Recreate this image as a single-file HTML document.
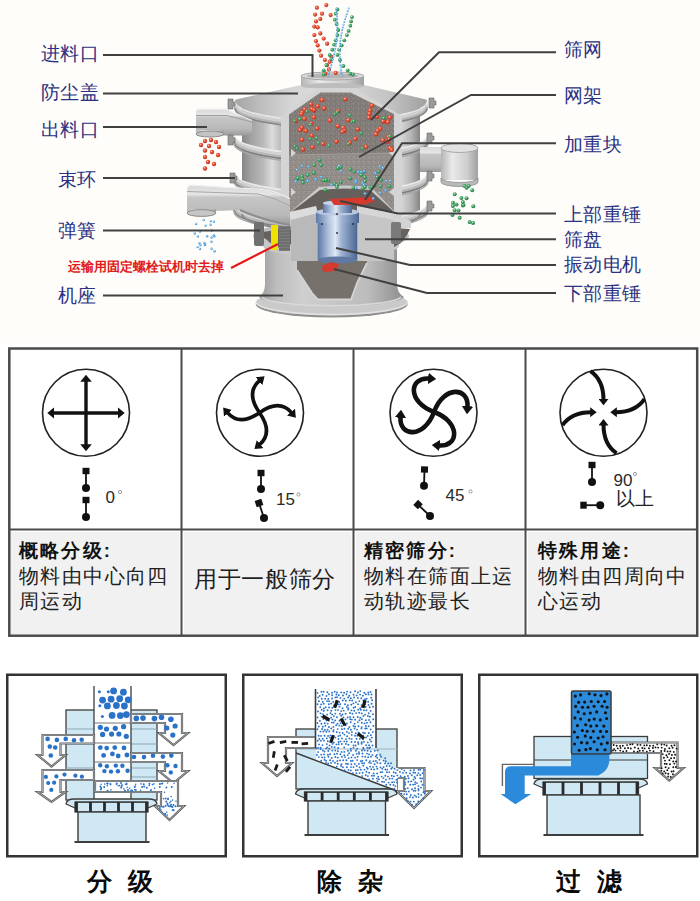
<!DOCTYPE html>
<html><head><meta charset="utf-8"><title>vibrating sieve</title>
<style>
html,body{margin:0;padding:0;background:#fff}
body{width:700px;height:901px;overflow:hidden}
svg{display:block}
text{font-family:"Liberation Sans",sans-serif}
.lb{font-family:"Liberation Serif",serif;font-size:19px;fill:#2b3182;letter-spacing:0.3px;font-weight:500}
.red{font-size:13.3px;font-weight:bold;fill:#e01c1c}
.num{font-size:17px;fill:#2a2a2a}
.tc{font-size:20px;fill:#222;letter-spacing:1.4px;font-weight:500}
.tc2{font-size:22.5px;fill:#1e1e1e;letter-spacing:0.7px;font-weight:500}
.tb{font-size:18.5px;font-weight:bold;fill:#111;letter-spacing:2.2px}
.cap{font-size:25px;font-weight:900;fill:#0a0a0a}
</style></head><body>
<svg width="700" height="901" viewBox="0 0 700 901">

<defs>
<linearGradient id="metal" x1="0" x2="1" y1="0" y2="0">
 <stop offset="0" stop-color="#8f8f8f"/><stop offset="0.18" stop-color="#d9d9d9"/>
 <stop offset="0.35" stop-color="#e8e8e8"/><stop offset="0.6" stop-color="#c2c2c2"/>
 <stop offset="0.85" stop-color="#a9a9a9"/><stop offset="1" stop-color="#7e7e7e"/></linearGradient>
<linearGradient id="metalv" x1="0" x2="0" y1="0" y2="1">
 <stop offset="0" stop-color="#e9e9e9"/><stop offset="0.5" stop-color="#c9c9c9"/><stop offset="1" stop-color="#9a9a9a"/></linearGradient>
<linearGradient id="lid" x1="0" x2="0" y1="0" y2="1">
 <stop offset="0" stop-color="#d5d5d5"/><stop offset="1" stop-color="#bdbdbd"/></linearGradient>
<linearGradient id="motor" x1="0" x2="1" y1="0" y2="0">
 <stop offset="0" stop-color="#3f5f95"/><stop offset="0.35" stop-color="#b9cbe6"/>
 <stop offset="0.55" stop-color="#7f9cc8"/><stop offset="1" stop-color="#344d7a"/></linearGradient>
<marker id="ah1" viewBox="0 0 7 11.5" refX="0.8" refY="5.75" markerWidth="7" markerHeight="11.5" orient="auto" markerUnits="userSpaceOnUse"><path d="M0,0 L7,5.75 L0,11.5 z" fill="#111"/></marker>
<marker id="ah2" viewBox="0 0 7.5 10.5" refX="0.8" refY="5.25" markerWidth="7.5" markerHeight="10.5" orient="auto" markerUnits="userSpaceOnUse"><path d="M0,0 L7.5,5.25 L0,10.5 z" fill="#111"/></marker>
<marker id="ah3" viewBox="0 0 8 11.5" refX="0.8" refY="5.75" markerWidth="8" markerHeight="11.5" orient="auto" markerUnits="userSpaceOnUse"><path d="M0,0 L8,5.75 L0,11.5 z" fill="#111"/></marker>
<marker id="ah4" viewBox="0 0 6.5 10" refX="0.8" refY="5.0" markerWidth="6.5" markerHeight="10" orient="auto" markerUnits="userSpaceOnUse"><path d="M0,0 L6.5,5.0 L0,10 z" fill="#111"/></marker>
</defs>
<rect x="0" y="0" width="700" height="343" fill="#fefdfa"/>
<defs>
<linearGradient id="bodyg" x1="0" x2="1" y1="0" y2="0">
 <stop offset="0" stop-color="#868686"/><stop offset="0.05" stop-color="#a2a2a2"/><stop offset="0.12" stop-color="#bababa"/><stop offset="0.17" stop-color="#dcdcdc"/>
 <stop offset="0.22" stop-color="#b9b9b9"/><stop offset="0.27" stop-color="#a6a6a6"/><stop offset="0.5" stop-color="#b0b0b0"/><stop offset="0.84" stop-color="#b6b6b6"/><stop offset="0.9" stop-color="#d2d2d2"/><stop offset="0.95" stop-color="#b5b5b5"/><stop offset="1" stop-color="#858585"/></linearGradient>
<linearGradient id="baseg" x1="0" x2="1" y1="0" y2="0">
 <stop offset="0" stop-color="#9a9a9a"/><stop offset="0.12" stop-color="#bdbdbd"/><stop offset="0.3" stop-color="#cfcfcf"/>
 <stop offset="0.75" stop-color="#bcbcbc"/><stop offset="1" stop-color="#8e8e8e"/></linearGradient>
<linearGradient id="spoutg" x1="0" x2="0" y1="0" y2="1">
 <stop offset="0" stop-color="#d8d8d8"/><stop offset="0.22" stop-color="#e6e6e6"/><stop offset="0.3" stop-color="#c6c6c6"/><stop offset="0.75" stop-color="#b8b8b8"/><stop offset="1" stop-color="#9a9a9a"/></linearGradient>
<linearGradient id="nozg" x1="0" x2="1" y1="0" y2="0">
 <stop offset="0" stop-color="#b5b5b5"/><stop offset="0.3" stop-color="#e9e9e9"/><stop offset="0.7" stop-color="#cfcfcf"/><stop offset="1" stop-color="#a0a0a0"/></linearGradient>
<linearGradient id="lidg" x1="0" x2="1" y1="0" y2="0">
 <stop offset="0" stop-color="#a5a5a5"/><stop offset="0.15" stop-color="#c0c0c0"/><stop offset="0.3" stop-color="#d6d6d6"/><stop offset="0.5" stop-color="#dcdcdc"/><stop offset="0.8" stop-color="#c4c4c4"/><stop offset="1" stop-color="#a0a0a0"/></linearGradient>
<linearGradient id="motg" x1="0" x2="1" y1="0" y2="0">
 <stop offset="0" stop-color="#5d79a6"/><stop offset="0.25" stop-color="#a9bcd9"/><stop offset="0.45" stop-color="#dfe8f3"/>
 <stop offset="0.6" stop-color="#9fb3d3"/><stop offset="1" stop-color="#4d6894"/></linearGradient>
<pattern id="tex" width="5" height="5" patternUnits="userSpaceOnUse"><rect width="5" height="5" fill="#827d79"/><rect x="1" y="2" width="1" height="1" fill="#77726e"/><rect x="3" y="3" width="1" height="1" fill="#8e8985"/><rect x="0" y="0" width="1" height="1" fill="#77726e"/><rect x="3" y="4" width="1" height="1" fill="#7c7773"/><rect x="0" y="1" width="1" height="1" fill="#7c7773"/><rect x="2" y="1" width="1" height="1" fill="#77726e"/><rect x="2" y="1" width="1" height="1" fill="#77726e"/><rect x="2" y="2" width="1" height="1" fill="#8e8985"/><rect x="1" y="2" width="1" height="1" fill="#7c7773"/><rect x="2" y="0" width="1" height="1" fill="#7c7773"/><rect x="3" y="4" width="1" height="1" fill="#8e8985"/><rect x="1" y="1" width="1" height="1" fill="#95908c"/></pattern>
<pattern id="tex2" width="5" height="5" patternUnits="userSpaceOnUse"><rect width="5" height="5" fill="#928d89"/><rect x="2" y="0" width="1" height="1" fill="#8d8884"/><rect x="0" y="2" width="1" height="1" fill="#8d8884"/><rect x="4" y="1" width="1" height="1" fill="#a39e9a"/><rect x="3" y="4" width="1" height="1" fill="#8d8884"/><rect x="3" y="3" width="1" height="1" fill="#9d9894"/><rect x="1" y="2" width="1" height="1" fill="#8d8884"/><rect x="0" y="0" width="1" height="1" fill="#878280"/><rect x="3" y="2" width="1" height="1" fill="#a39e9a"/><rect x="2" y="1" width="1" height="1" fill="#9d9894"/><rect x="0" y="3" width="1" height="1" fill="#9d9894"/><rect x="3" y="2" width="1" height="1" fill="#9d9894"/><rect x="2" y="3" width="1" height="1" fill="#8d8884"/></pattern>
<radialGradient id="pr" cx="0.38" cy="0.35" r="0.65"><stop offset="0" stop-color="#ffd9cc"/><stop offset="0.35" stop-color="#ee5a3e"/><stop offset="1" stop-color="#b8301c"/></radialGradient>
<radialGradient id="pg" cx="0.38" cy="0.35" r="0.65"><stop offset="0" stop-color="#d9f5e0"/><stop offset="0.35" stop-color="#4bae6e"/><stop offset="1" stop-color="#2a7a48"/></radialGradient>
<radialGradient id="pb" cx="0.38" cy="0.35" r="0.65"><stop offset="0" stop-color="#e6f4ff"/><stop offset="0.4" stop-color="#6ab6ec"/><stop offset="1" stop-color="#3b8fcf"/></radialGradient>
</defs>
<ellipse cx="331.7" cy="304" rx="76" ry="13.5" fill="#8f8f8f"/>
<ellipse cx="331.7" cy="302.5" rx="76" ry="13" fill="#cacaca"/>
<path d="M256,302.5 A76,13 0 0 0 407.5,302.5" fill="none" stroke="#e2e2e2" stroke-width="1.5"/>
<path d="M265,249 L265,284 Q265,293 259,297 A73,11 0 0 0 404,297 Q397,293 397,284 L397,249 Z" fill="url(#baseg)"/>
<path d="M262,297 A70,10 0 0 0 401,297" fill="none" stroke="#d9d9d9" stroke-width="1.5"/>
<polygon points="297,256 297,270 312,293 318,299.5 351,299.5 357,283 367,263 367,256" fill="#77716c"/>
<polyline points="297,270 312,293 318,299.5 351,299.5 357,283 367,263" fill="none" stroke="#d4d4d4" stroke-width="1.8"/>
<ellipse cx="331" cy="236" rx="78" ry="15" fill="#bfbfbf"/>
<ellipse cx="331" cy="236" rx="68" ry="11" fill="#66615d"/>
<path d="M263,236 A68,11 0 0 0 399,236 L399,246 A68,11 0 0 1 263,246 Z" fill="#c8c8c8"/>
<path d="M242,104 L242,212 A89,17 0 0 0 420,212 L420,104 Z" fill="url(#bodyg)"/>
<path d="M234,135 A97,19.5 0 0 0 428,135" fill="none" stroke="#e9e9e9" stroke-width="2"/>
<path d="M234,137.5 A97,19.5 0 0 0 428,137.5" fill="none" stroke="#d2d2d2" stroke-width="3"/>
<path d="M234,140 A97,19.5 0 0 0 428,140" fill="none" stroke="#b8b8b8" stroke-width="2.5"/>
<path d="M234,141.8 A97,19.5 0 0 0 428,141.8" fill="none" stroke="#7f7f7f" stroke-width="1.6"/>
<path d="M234,143.5 A97,19.5 0 0 0 428,143.5" fill="none" stroke="#a8a8a8" stroke-width="1.5"/>
<path d="M234,173 A97,19.5 0 0 0 428,173" fill="none" stroke="#e9e9e9" stroke-width="2"/>
<path d="M234,175.5 A97,19.5 0 0 0 428,175.5" fill="none" stroke="#d2d2d2" stroke-width="3"/>
<path d="M234,178 A97,19.5 0 0 0 428,178" fill="none" stroke="#b8b8b8" stroke-width="2.5"/>
<path d="M234,179.8 A97,19.5 0 0 0 428,179.8" fill="none" stroke="#7f7f7f" stroke-width="1.6"/>
<path d="M234,181.5 A97,19.5 0 0 0 428,181.5" fill="none" stroke="#a8a8a8" stroke-width="1.5"/>
<path d="M234,203 A97,19.5 0 0 0 428,203" fill="none" stroke="#e9e9e9" stroke-width="2"/>
<path d="M234,205.5 A97,19.5 0 0 0 428,205.5" fill="none" stroke="#d2d2d2" stroke-width="3"/>
<path d="M234,208 A97,19.5 0 0 0 428,208" fill="none" stroke="#b8b8b8" stroke-width="2.5"/>
<path d="M234,209.8 A97,19.5 0 0 0 428,209.8" fill="none" stroke="#7f7f7f" stroke-width="1.6"/>
<path d="M234,211.5 A97,19.5 0 0 0 428,211.5" fill="none" stroke="#a8a8a8" stroke-width="1.5"/>
<path d="M242,214 A89,17 0 0 0 420,214" fill="none" stroke="#8a8a8a" stroke-width="2"/>
<path d="M301,85 L238,99 Q234,100 235,101 A96,19 0 0 0 427,101 Q428,100 424,99 L364,85 Z" fill="url(#lidg)"/>
<path d="M235,102 A96,19 0 0 0 427,102" fill="none" stroke="#e4e4e4" stroke-width="2"/>
<path d="M235,104.5 A96,19 0 0 0 427,104.5" fill="none" stroke="#cfcfcf" stroke-width="3"/>
<path d="M235,107 A96,19 0 0 0 427,107" fill="none" stroke="#b3b3b3" stroke-width="2.5"/>
<path d="M235,108.6 A96,19 0 0 0 427,108.6" fill="none" stroke="#858585" stroke-width="1.5"/>
<rect x="301" y="76" width="63" height="10" fill="url(#nozg)"/>
<ellipse cx="332.5" cy="86" rx="31.5" ry="3" fill="#bdbdbd"/>
<ellipse cx="332.5" cy="76" rx="31.5" ry="4" fill="#dcdcdc" stroke="#a5a5a5" stroke-width="1"/>
<ellipse cx="332.5" cy="76" rx="26" ry="2.6" fill="#b5b5b5"/>
<polygon points="281,116 318,88 354,88 402,116 402,218 281,218" fill="#d4d4d4"/>
<polygon points="289,114.5 320.5,92.5 350.5,92.5 394,114 394,200 289,200" fill="url(#tex)"/>
<polygon points="289,155 394,153 394,212 289,212" fill="url(#tex2)"/>
<path d="M291,155 L394,153" stroke="#a29d99" stroke-width="1"/>
<polygon points="291,149 296,153 291,157" fill="#d4d4d4"/>
<polygon points="394,149 389,153 394,157" fill="#d4d4d4"/>
<polygon points="291,188 296,192 291,196" fill="#d4d4d4"/>
<polygon points="394,188 389,192 394,196" fill="#d4d4d4"/>
<path d="M288,214 L319,187 Q345,184 371,187 L395,212 L395,226 L288,226 Z" fill="#c9c9c9"/>
<path d="M291,212 L320,190 Q345,187 370,190 L393,211 Z" fill="#66605c"/>
<polygon points="289,212 316,206 318,213 291,220" fill="#dcdcdc"/>
<polygon points="357,206 394,213 394,220 357,213" fill="#d6d6d6"/>
<path d="M289,228 L263,232 Q266,246 289,250 Z" fill="#67625e"/>
<polygon points="291,220 318,213 318,261 291,261" fill="#b9b9b9"/>
<line x1="318" y1="212" x2="318" y2="261" stroke="#8f8f8f" stroke-width="1"/>
<polygon points="357,213 394,220 394,261 357,261" fill="#c6c6c6"/>
<path d="M394,228 L410,229 Q404,243 394,247 Z" fill="#67625e"/>
<polygon points="394,220 396,214 411,221 411,228 394,228" fill="#d3d3d3"/>
<line x1="357" y1="212" x2="357" y2="261" stroke="#8f8f8f" stroke-width="1"/>
<rect x="318" y="214" width="39" height="46" fill="url(#motg)"/>
<ellipse cx="337.5" cy="260" rx="19.5" ry="3.5" fill="#5f79a3"/>
<rect x="316" y="212" width="43" height="11" fill="url(#motg)"/>
<ellipse cx="337.5" cy="212" rx="21.5" ry="3.5" fill="#b9c9e2"/>
<rect x="323" y="203" width="29" height="10" fill="url(#motg)"/>
<ellipse cx="337.5" cy="203" rx="14.5" ry="2.5" fill="#c7d5ea"/>
<circle cx="322" cy="224" r="1" fill="#333"/>
<circle cx="353" cy="224" r="1" fill="#333"/>
<circle cx="337" cy="214" r="1" fill="#333"/>
<circle cx="337" cy="233" r="1" fill="#333"/>
<polygon points="330,199 371,197 375,201 363,205 334,205" fill="#d63a2c"/>
<polygon points="322,266 331,262 339,264 336,271 323,272" fill="#d63a2c"/>
<rect x="254" y="222" width="10" height="24" rx="2" fill="#707070"/>
<rect x="279" y="226" width="11" height="25" fill="#7c7c7c"/>
<line x1="279" y1="228" x2="290" y2="228" stroke="#5a5a5a" stroke-width="0.8"/>
<line x1="279" y1="231" x2="290" y2="231" stroke="#5a5a5a" stroke-width="0.8"/>
<line x1="279" y1="234" x2="290" y2="234" stroke="#5a5a5a" stroke-width="0.8"/>
<line x1="279" y1="237" x2="290" y2="237" stroke="#5a5a5a" stroke-width="0.8"/>
<line x1="279" y1="240" x2="290" y2="240" stroke="#5a5a5a" stroke-width="0.8"/>
<line x1="279" y1="243" x2="290" y2="243" stroke="#5a5a5a" stroke-width="0.8"/>
<line x1="279" y1="246" x2="290" y2="246" stroke="#5a5a5a" stroke-width="0.8"/>
<line x1="279" y1="249" x2="290" y2="249" stroke="#5a5a5a" stroke-width="0.8"/>
<rect x="391" y="222" width="10" height="22" rx="2" fill="#7a7a7a"/>
<rect x="271" y="225" width="7" height="25" fill="#f2e000"/>
<path d="M196,112 Q196,109.5 199,109.5 L226,109.5 L252,121 L252,135.5 L222,135.5 Q212,131 196,132 Z" fill="url(#spoutg)"/>
<path d="M196,115.5 L227,115.5 L252,122" fill="none" stroke="#9c9c9c" stroke-width="1"/>
<path d="M196,112 Q196,109 200,109 L226,109 L252,120.5" fill="none" stroke="#eeeeee" stroke-width="1.2"/>
<rect x="196" y="130" width="28" height="4" fill="url(#nozg)"/>
<ellipse cx="210" cy="134" rx="14" ry="3" fill="#c4c4c4" stroke="#8a8a8a" stroke-width="1"/>
<path d="M191,185.5 L262,190 Q280,192 290,200 L290,225 Q262,220 240,210 L216,211 L187,211 L187,190 Q187,185.5 191,185.5 Z" fill="url(#spoutg)"/>
<path d="M187,191.5 L258,194 Q276,198 290,206" fill="none" stroke="#a8a8a8" stroke-width="1"/>
<path d="M187,189 Q188,185 192,185 L262,189.5 Q280,191.5 290,199" fill="none" stroke="#efefef" stroke-width="1.2"/>
<path d="M240,210 Q262,220 290,225" fill="none" stroke="#8d8d8d" stroke-width="2"/>
<rect x="187" y="209" width="29" height="4" fill="url(#nozg)"/>
<ellipse cx="201.5" cy="213" rx="14.5" ry="3.4" fill="#c6c6c6" stroke="#8a8a8a" stroke-width="1"/>
<path d="M420,147 L444,147 L444,172 L420,172 Z" fill="url(#spoutg)"/>
<rect x="441" y="148" width="37" height="32" fill="url(#nozg)"/>
<ellipse cx="459.5" cy="148" rx="18.5" ry="4.5" fill="#e2e2e2" stroke="#a8a8a8" stroke-width="1"/>
<path d="M441,178 A18.5,4.5 0 0 0 478,178 L478,182 A18.5,4.5 0 0 1 441,182 Z" fill="#b9b9b9" stroke="#8c8c8c" stroke-width="0.8"/>
<path d="M228,99 h5 v3 h2 v4 h-2 v3 h-5 z" fill="#9a9a9a" stroke="#6a6a6a" stroke-width="0.6"/>
<path d="M228,135 h5 v3 h2 v4 h-2 v3 h-5 z" fill="#9a9a9a" stroke="#6a6a6a" stroke-width="0.6"/>
<path d="M230,173 h5 v3 h2 v4 h-2 v3 h-5 z" fill="#9a9a9a" stroke="#6a6a6a" stroke-width="0.6"/>
<path d="M429,98 h5 v3 h2 v4 h-2 v3 h-5 z" fill="#9a9a9a" stroke="#6a6a6a" stroke-width="0.6"/>
<path d="M427,133 h5 v3 h2 v4 h-2 v3 h-5 z" fill="#9a9a9a" stroke="#6a6a6a" stroke-width="0.6"/>
<path d="M427,171 h5 v3 h2 v4 h-2 v3 h-5 z" fill="#9a9a9a" stroke="#6a6a6a" stroke-width="0.6"/>
<path d="M427,201 h5 v3 h2 v4 h-2 v3 h-5 z" fill="#9a9a9a" stroke="#6a6a6a" stroke-width="0.6"/>
<circle cx="337.8" cy="126.2" r="2.3" fill="url(#pr)"/>
<circle cx="384.5" cy="121.1" r="2.3" fill="url(#pr)"/>
<circle cx="343.3" cy="127.7" r="2.3" fill="url(#pr)"/>
<circle cx="311.3" cy="123.6" r="2.3" fill="url(#pr)"/>
<circle cx="355.4" cy="138.8" r="2.3" fill="url(#pr)"/>
<circle cx="302.3" cy="112.4" r="2.3" fill="url(#pr)"/>
<circle cx="302.0" cy="139.7" r="2.3" fill="url(#pr)"/>
<circle cx="390.2" cy="148.1" r="2.3" fill="url(#pr)"/>
<circle cx="357.7" cy="129.2" r="2.3" fill="url(#pr)"/>
<circle cx="345.3" cy="99.2" r="2.3" fill="url(#pr)"/>
<circle cx="311.8" cy="109.1" r="2.3" fill="url(#pr)"/>
<circle cx="296.0" cy="121.1" r="2.3" fill="url(#pr)"/>
<circle cx="336.6" cy="141.5" r="2.3" fill="url(#pr)"/>
<circle cx="344.4" cy="130.6" r="2.3" fill="url(#pr)"/>
<circle cx="342.5" cy="131.8" r="2.3" fill="url(#pr)"/>
<circle cx="338.3" cy="111.0" r="2.3" fill="url(#pr)"/>
<circle cx="391.8" cy="149.8" r="2.3" fill="url(#pr)"/>
<circle cx="376.2" cy="134.2" r="2.3" fill="url(#pr)"/>
<circle cx="324.2" cy="108.4" r="2.3" fill="url(#pr)"/>
<circle cx="321.6" cy="99.8" r="2.3" fill="url(#pr)"/>
<circle cx="368.9" cy="117.6" r="2.3" fill="url(#pr)"/>
<circle cx="376.8" cy="116.9" r="2.3" fill="url(#pr)"/>
<circle cx="387.8" cy="141.8" r="2.3" fill="url(#pr)"/>
<circle cx="383.1" cy="121.4" r="2.3" fill="url(#pr)"/>
<circle cx="390.1" cy="117.5" r="2.3" fill="url(#pr)"/>
<circle cx="300.2" cy="130.0" r="2.3" fill="url(#pr)"/>
<circle cx="370.1" cy="110.6" r="2.3" fill="url(#pr)"/>
<circle cx="301.6" cy="114.0" r="2.3" fill="url(#pr)"/>
<circle cx="388.4" cy="136.9" r="2.3" fill="url(#pr)"/>
<circle cx="304.7" cy="109.3" r="2.3" fill="url(#pr)"/>
<circle cx="371.9" cy="105.6" r="2.3" fill="url(#pr)"/>
<circle cx="348.4" cy="120.2" r="2.3" fill="url(#pr)"/>
<circle cx="311.9" cy="135.5" r="2.3" fill="url(#pr)"/>
<circle cx="306.0" cy="130.8" r="2.3" fill="url(#pr)"/>
<circle cx="304.5" cy="118.7" r="2.3" fill="url(#pr)"/>
<circle cx="314.1" cy="110.6" r="2.3" fill="url(#pr)"/>
<circle cx="389.1" cy="139.4" r="2.3" fill="url(#pr)"/>
<circle cx="323.1" cy="143.8" r="2.3" fill="url(#pr)"/>
<circle cx="313.9" cy="117.3" r="2.3" fill="url(#pr)"/>
<circle cx="377.6" cy="130.7" r="2.3" fill="url(#pr)"/>
<circle cx="302.9" cy="149.4" r="2.3" fill="url(#pr)"/>
<circle cx="314.1" cy="109.9" r="2.3" fill="url(#pr)"/>
<circle cx="369.5" cy="113.8" r="2.3" fill="url(#pr)"/>
<circle cx="322.3" cy="100.0" r="2.3" fill="url(#pr)"/>
<circle cx="301.9" cy="127.5" r="2.3" fill="url(#pr)"/>
<circle cx="317.1" cy="128.5" r="2.3" fill="url(#pr)"/>
<circle cx="329.8" cy="120.5" r="2.3" fill="url(#pr)"/>
<circle cx="388.0" cy="122.1" r="2.3" fill="url(#pr)"/>
<circle cx="349.9" cy="142.8" r="2.3" fill="url(#pr)"/>
<circle cx="311.1" cy="104.3" r="2.3" fill="url(#pr)"/>
<circle cx="382.9" cy="140.2" r="2.3" fill="url(#pr)"/>
<circle cx="317.7" cy="106.2" r="2.3" fill="url(#pr)"/>
<circle cx="366.2" cy="146.8" r="2.3" fill="url(#pr)"/>
<circle cx="312.5" cy="147.3" r="2.3" fill="url(#pr)"/>
<circle cx="380.3" cy="128.6" r="2.3" fill="url(#pr)"/>
<circle cx="334.7" cy="114.2" r="1.8" fill="url(#pg)"/>
<circle cx="296.8" cy="148.5" r="1.8" fill="url(#pg)"/>
<circle cx="316.6" cy="138.2" r="1.8" fill="url(#pg)"/>
<circle cx="318.4" cy="142.9" r="1.8" fill="url(#pg)"/>
<circle cx="352.1" cy="121.7" r="1.8" fill="url(#pg)"/>
<circle cx="310.4" cy="138.8" r="1.8" fill="url(#pg)"/>
<circle cx="299.8" cy="119.1" r="1.8" fill="url(#pg)"/>
<circle cx="348.4" cy="144.1" r="1.8" fill="url(#pg)"/>
<circle cx="353.8" cy="121.2" r="1.8" fill="url(#pg)"/>
<circle cx="383.8" cy="118.2" r="1.8" fill="url(#pg)"/>
<circle cx="294.6" cy="120.8" r="1.8" fill="url(#pg)"/>
<circle cx="337.1" cy="112.4" r="1.8" fill="url(#pg)"/>
<circle cx="310.4" cy="124.8" r="1.8" fill="url(#pg)"/>
<circle cx="349.6" cy="115.3" r="1.8" fill="url(#pg)"/>
<circle cx="328.9" cy="145.6" r="1.8" fill="url(#pg)"/>
<circle cx="390.1" cy="136.3" r="1.8" fill="url(#pg)"/>
<circle cx="361.4" cy="133.4" r="1.8" fill="url(#pg)"/>
<circle cx="306.9" cy="111.4" r="1.8" fill="url(#pg)"/>
<circle cx="294.8" cy="146.4" r="1.8" fill="url(#pg)"/>
<circle cx="362.4" cy="148.5" r="1.8" fill="url(#pg)"/>
<circle cx="297.0" cy="179.1" r="1.9" fill="url(#pg)"/>
<circle cx="340.8" cy="181.9" r="1.9" fill="url(#pg)"/>
<circle cx="325.3" cy="190.0" r="1.9" fill="url(#pg)"/>
<circle cx="302.1" cy="176.4" r="1.9" fill="url(#pg)"/>
<circle cx="365.0" cy="187.0" r="1.9" fill="url(#pg)"/>
<circle cx="365.0" cy="181.1" r="1.9" fill="url(#pg)"/>
<circle cx="370.4" cy="187.5" r="1.9" fill="url(#pg)"/>
<circle cx="328.4" cy="180.6" r="1.9" fill="url(#pg)"/>
<circle cx="380.6" cy="186.1" r="1.9" fill="url(#pg)"/>
<circle cx="334.6" cy="183.7" r="1.9" fill="url(#pg)"/>
<circle cx="377.0" cy="177.2" r="1.9" fill="url(#pg)"/>
<circle cx="354.4" cy="171.5" r="1.9" fill="url(#pg)"/>
<circle cx="350.4" cy="178.3" r="1.9" fill="url(#pg)"/>
<circle cx="302.6" cy="179.2" r="1.9" fill="url(#pg)"/>
<circle cx="389.4" cy="186.4" r="1.9" fill="url(#pg)"/>
<circle cx="364.2" cy="171.7" r="1.9" fill="url(#pg)"/>
<circle cx="364.8" cy="177.4" r="1.9" fill="url(#pg)"/>
<circle cx="336.8" cy="185.2" r="1.9" fill="url(#pg)"/>
<circle cx="303.0" cy="182.5" r="1.9" fill="url(#pg)"/>
<circle cx="297.8" cy="178.0" r="1.9" fill="url(#pg)"/>
<circle cx="340.7" cy="166.9" r="1.9" fill="url(#pg)"/>
<circle cx="361.3" cy="174.9" r="1.9" fill="url(#pg)"/>
<circle cx="353.4" cy="187.6" r="1.9" fill="url(#pg)"/>
<circle cx="319.3" cy="160.3" r="1.9" fill="url(#pg)"/>
<circle cx="323.6" cy="180.3" r="1.9" fill="url(#pg)"/>
<circle cx="314.2" cy="165.1" r="1.9" fill="url(#pg)"/>
<circle cx="381.0" cy="179.8" r="1.9" fill="url(#pg)"/>
<circle cx="337.0" cy="186.8" r="1.9" fill="url(#pg)"/>
<circle cx="326.1" cy="180.0" r="1.9" fill="url(#pg)"/>
<circle cx="313.9" cy="172.9" r="1.9" fill="url(#pg)"/>
<circle cx="371.6" cy="187.4" r="1.9" fill="url(#pg)"/>
<circle cx="378.6" cy="171.5" r="1.9" fill="url(#pg)"/>
<circle cx="350.4" cy="169.5" r="1.9" fill="url(#pg)"/>
<circle cx="307.9" cy="174.9" r="1.9" fill="url(#pg)"/>
<circle cx="374.5" cy="185.5" r="1.9" fill="url(#pg)"/>
<circle cx="362.6" cy="188.5" r="1.9" fill="url(#pg)"/>
<circle cx="321.3" cy="165.1" r="1.9" fill="url(#pg)"/>
<circle cx="337.8" cy="168.3" r="1.9" fill="url(#pg)"/>
<circle cx="315.8" cy="179.5" r="1.4" fill="url(#pb)"/>
<circle cx="355.7" cy="182.3" r="1.4" fill="url(#pb)"/>
<circle cx="390.3" cy="180.8" r="1.4" fill="url(#pb)"/>
<circle cx="302.2" cy="166.1" r="1.4" fill="url(#pb)"/>
<circle cx="379.7" cy="166.5" r="1.4" fill="url(#pb)"/>
<circle cx="363.7" cy="185.0" r="1.4" fill="url(#pb)"/>
<circle cx="296.9" cy="169.8" r="1.4" fill="url(#pb)"/>
<circle cx="339.1" cy="165.9" r="1.4" fill="url(#pb)"/>
<circle cx="375.5" cy="173.3" r="1.4" fill="url(#pb)"/>
<circle cx="308.7" cy="166.6" r="1.4" fill="url(#pb)"/>
<circle cx="356.0" cy="180.6" r="1.4" fill="url(#pb)"/>
<circle cx="356.1" cy="187.9" r="1.4" fill="url(#pb)"/>
<circle cx="373.3" cy="198.5" r="1.4" fill="url(#pb)"/>
<circle cx="361.4" cy="172.0" r="1.4" fill="url(#pb)"/>
<circle cx="341.1" cy="171.3" r="1.4" fill="url(#pb)"/>
<circle cx="296.0" cy="181.5" r="1.4" fill="url(#pb)"/>
<circle cx="364.3" cy="171.3" r="1.4" fill="url(#pb)"/>
<circle cx="321.4" cy="177.1" r="1.4" fill="url(#pb)"/>
<circle cx="362.6" cy="183.2" r="1.4" fill="url(#pb)"/>
<circle cx="382.9" cy="168.1" r="1.4" fill="url(#pb)"/>
<circle cx="385.5" cy="190.3" r="1.4" fill="url(#pb)"/>
<circle cx="307.6" cy="180.9" r="1.4" fill="url(#pb)"/>
<circle cx="331.5" cy="184.9" r="1.4" fill="url(#pb)"/>
<circle cx="380.3" cy="192.9" r="1.4" fill="url(#pb)"/>
<circle cx="386.6" cy="181.2" r="1.4" fill="url(#pb)"/>
<circle cx="358.2" cy="172.2" r="1.4" fill="url(#pb)"/>
<circle cx="365.0" cy="193.6" r="1.4" fill="url(#pb)"/>
<circle cx="205" cy="141" r="2.2" fill="url(#pr)"/>
<circle cx="211" cy="140" r="2.2" fill="url(#pr)"/>
<circle cx="216" cy="142" r="2.2" fill="url(#pr)"/>
<circle cx="209" cy="146" r="2.2" fill="url(#pr)"/>
<circle cx="205" cy="150.5" r="2.2" fill="url(#pr)"/>
<circle cx="212" cy="152" r="2.2" fill="url(#pr)"/>
<circle cx="218" cy="155" r="2.2" fill="url(#pr)"/>
<circle cx="205" cy="157" r="2.2" fill="url(#pr)"/>
<circle cx="208" cy="162" r="2.2" fill="url(#pr)"/>
<circle cx="214" cy="164" r="2.2" fill="url(#pr)"/>
<circle cx="205" cy="168.5" r="2.2" fill="url(#pr)"/>
<circle cx="219" cy="147" r="2.2" fill="url(#pr)"/>
<circle cx="201" cy="145" r="2.2" fill="url(#pr)"/>
<circle cx="214.6" cy="251.3" r="1.2" fill="url(#pb)"/>
<circle cx="204.8" cy="245.1" r="1.2" fill="url(#pb)"/>
<circle cx="200.0" cy="249.0" r="1.2" fill="url(#pb)"/>
<circle cx="211.8" cy="230.5" r="1.2" fill="url(#pb)"/>
<circle cx="194.8" cy="233.5" r="1.2" fill="url(#pb)"/>
<circle cx="205.1" cy="244.4" r="1.2" fill="url(#pb)"/>
<circle cx="203.7" cy="219.9" r="1.2" fill="url(#pb)"/>
<circle cx="210.8" cy="221.1" r="1.2" fill="url(#pb)"/>
<circle cx="210.6" cy="224.7" r="1.2" fill="url(#pb)"/>
<circle cx="200.4" cy="245.0" r="1.2" fill="url(#pb)"/>
<circle cx="196.1" cy="223.9" r="1.2" fill="url(#pb)"/>
<circle cx="204.4" cy="242.9" r="1.2" fill="url(#pb)"/>
<circle cx="211.5" cy="241.7" r="1.2" fill="url(#pb)"/>
<circle cx="213.8" cy="235.3" r="1.2" fill="url(#pb)"/>
<circle cx="213.9" cy="221.8" r="1.2" fill="url(#pb)"/>
<circle cx="197.9" cy="236.4" r="1.2" fill="url(#pb)"/>
<circle cx="199.4" cy="243.1" r="1.2" fill="url(#pb)"/>
<circle cx="207.1" cy="236.3" r="1.2" fill="url(#pb)"/>
<circle cx="211.6" cy="237.5" r="1.2" fill="url(#pb)"/>
<circle cx="199.9" cy="231.6" r="1.2" fill="url(#pb)"/>
<circle cx="211.6" cy="248.7" r="1.2" fill="url(#pb)"/>
<circle cx="197.6" cy="247.1" r="1.2" fill="url(#pb)"/>
<circle cx="214.3" cy="236.3" r="1.2" fill="url(#pb)"/>
<circle cx="205.6" cy="225.6" r="1.2" fill="url(#pb)"/>
<circle cx="462.9" cy="205.6" r="2" fill="url(#pg)"/>
<circle cx="464.5" cy="186.1" r="2" fill="url(#pg)"/>
<circle cx="473.3" cy="206.2" r="2" fill="url(#pg)"/>
<circle cx="459.6" cy="217.8" r="2" fill="url(#pg)"/>
<circle cx="463.5" cy="205.1" r="2" fill="url(#pg)"/>
<circle cx="466.6" cy="187.7" r="2" fill="url(#pg)"/>
<circle cx="462.9" cy="202.0" r="2" fill="url(#pg)"/>
<circle cx="473.0" cy="222.9" r="2" fill="url(#pg)"/>
<circle cx="456.5" cy="204.4" r="2" fill="url(#pg)"/>
<circle cx="453.0" cy="202.8" r="2" fill="url(#pg)"/>
<circle cx="469.6" cy="221.9" r="2" fill="url(#pg)"/>
<circle cx="461.4" cy="198.0" r="2" fill="url(#pg)"/>
<circle cx="454.6" cy="210.3" r="2" fill="url(#pg)"/>
<circle cx="472.2" cy="190.3" r="2" fill="url(#pg)"/>
<circle cx="468.7" cy="185.9" r="2" fill="url(#pg)"/>
<circle cx="454.7" cy="194.3" r="2" fill="url(#pg)"/>
<circle cx="466.5" cy="198.2" r="2" fill="url(#pg)"/>
<circle cx="458.5" cy="210.4" r="2" fill="url(#pg)"/>
<circle cx="452.5" cy="215.0" r="2" fill="url(#pg)"/>
<circle cx="452.9" cy="205.9" r="2" fill="url(#pg)"/>
<circle cx="316.9" cy="7.7" r="2.1" fill="url(#pr)"/>
<circle cx="326.3" cy="5.1" r="2.1" fill="url(#pr)"/>
<circle cx="315.1" cy="14.6" r="2.1" fill="url(#pr)"/>
<circle cx="322" cy="13.7" r="2.1" fill="url(#pr)"/>
<circle cx="330.6" cy="15.1" r="2.1" fill="url(#pr)"/>
<circle cx="316" cy="21.4" r="2.1" fill="url(#pr)"/>
<circle cx="320.3" cy="18.9" r="2.1" fill="url(#pr)"/>
<circle cx="314.3" cy="26.6" r="2.1" fill="url(#pr)"/>
<circle cx="317.7" cy="27.4" r="2.1" fill="url(#pr)"/>
<circle cx="320.3" cy="33.4" r="2.1" fill="url(#pr)"/>
<circle cx="314.3" cy="35.1" r="2.1" fill="url(#pr)"/>
<circle cx="323.7" cy="38.6" r="2.1" fill="url(#pr)"/>
<circle cx="316" cy="41.1" r="2.1" fill="url(#pr)"/>
<circle cx="327.1" cy="43.7" r="2.1" fill="url(#pr)"/>
<circle cx="317.7" cy="45.4" r="2.1" fill="url(#pr)"/>
<circle cx="319.4" cy="50.6" r="2.1" fill="url(#pr)"/>
<circle cx="321.1" cy="55.7" r="2.1" fill="url(#pr)"/>
<circle cx="324.9" cy="60" r="2.1" fill="url(#pr)"/>
<circle cx="327.1" cy="65.1" r="2.1" fill="url(#pr)"/>
<circle cx="328.9" cy="69.4" r="2.1" fill="url(#pr)"/>
<circle cx="331.4" cy="56.6" r="2.1" fill="url(#pr)"/>
<circle cx="329.7" cy="61.7" r="2.1" fill="url(#pr)"/>
<circle cx="325.4" cy="73.7" r="2.1" fill="url(#pr)"/>
<circle cx="335.7" cy="72.9" r="2.1" fill="url(#pr)"/>
<circle cx="337.4" cy="9.4" r="1.9" fill="url(#pg)"/>
<circle cx="335.7" cy="13.7" r="1.9" fill="url(#pg)"/>
<circle cx="334.9" cy="19.7" r="1.9" fill="url(#pg)"/>
<circle cx="336.6" cy="24" r="1.9" fill="url(#pg)"/>
<circle cx="338.3" cy="30" r="1.9" fill="url(#pg)"/>
<circle cx="337.4" cy="35.1" r="1.9" fill="url(#pg)"/>
<circle cx="335.7" cy="40.3" r="1.9" fill="url(#pg)"/>
<circle cx="334" cy="44.6" r="1.9" fill="url(#pg)"/>
<circle cx="332.3" cy="49.7" r="1.9" fill="url(#pg)"/>
<circle cx="329.7" cy="54.9" r="1.9" fill="url(#pg)"/>
<circle cx="331.4" cy="59.1" r="1.9" fill="url(#pg)"/>
<circle cx="326.3" cy="65.1" r="1.9" fill="url(#pg)"/>
<circle cx="323.7" cy="70.3" r="1.9" fill="url(#pg)"/>
<circle cx="323.7" cy="74.6" r="1.9" fill="url(#pg)"/>
<circle cx="352" cy="17.1" r="1.9" fill="url(#pg)"/>
<circle cx="351.1" cy="21.4" r="1.9" fill="url(#pg)"/>
<circle cx="350.3" cy="25.7" r="1.9" fill="url(#pg)"/>
<circle cx="348.6" cy="30.9" r="1.9" fill="url(#pg)"/>
<circle cx="346.9" cy="35.1" r="1.9" fill="url(#pg)"/>
<circle cx="344.3" cy="40.3" r="1.9" fill="url(#pg)"/>
<circle cx="341.7" cy="45.4" r="1.9" fill="url(#pg)"/>
<circle cx="339.1" cy="49.7" r="1.9" fill="url(#pg)"/>
<circle cx="337.4" cy="54.9" r="1.9" fill="url(#pg)"/>
<circle cx="340" cy="60" r="1.9" fill="url(#pg)"/>
<circle cx="343.4" cy="66" r="1.9" fill="url(#pg)"/>
<circle cx="347.7" cy="70.3" r="1.9" fill="url(#pg)"/>
<circle cx="352.9" cy="74.6" r="1.9" fill="url(#pg)"/>
<circle cx="350.3" cy="73.7" r="1.9" fill="url(#pg)"/>
<circle cx="336.6" cy="8.6" r="1" fill="url(#pb)"/>
<circle cx="348.6" cy="8.6" r="1" fill="url(#pb)"/>
<circle cx="336.8" cy="11.3" r="1" fill="url(#pb)"/>
<circle cx="347.7" cy="11.3" r="1" fill="url(#pb)"/>
<circle cx="336.9" cy="14.0" r="1" fill="url(#pb)"/>
<circle cx="346.8" cy="14.0" r="1" fill="url(#pb)"/>
<circle cx="337.0" cy="16.6" r="1" fill="url(#pb)"/>
<circle cx="345.9" cy="16.6" r="1" fill="url(#pb)"/>
<circle cx="337.2" cy="19.3" r="1" fill="url(#pb)"/>
<circle cx="345.1" cy="19.3" r="1" fill="url(#pb)"/>
<circle cx="337.2" cy="22.0" r="1" fill="url(#pb)"/>
<circle cx="344.3" cy="22.0" r="1" fill="url(#pb)"/>
<circle cx="337.3" cy="24.7" r="1" fill="url(#pb)"/>
<circle cx="343.5" cy="24.7" r="1" fill="url(#pb)"/>
<circle cx="337.3" cy="27.4" r="1" fill="url(#pb)"/>
<circle cx="342.8" cy="27.4" r="1" fill="url(#pb)"/>
<circle cx="337.2" cy="30.0" r="1" fill="url(#pb)"/>
<circle cx="342.2" cy="30.0" r="1" fill="url(#pb)"/>
<circle cx="337.1" cy="32.7" r="1" fill="url(#pb)"/>
<circle cx="341.6" cy="32.7" r="1" fill="url(#pb)"/>
<circle cx="337.0" cy="35.4" r="1" fill="url(#pb)"/>
<circle cx="341.1" cy="35.4" r="1" fill="url(#pb)"/>
<circle cx="336.7" cy="38.1" r="1" fill="url(#pb)"/>
<circle cx="340.7" cy="38.1" r="1" fill="url(#pb)"/>
<circle cx="336.5" cy="40.8" r="1" fill="url(#pb)"/>
<circle cx="340.3" cy="40.8" r="1" fill="url(#pb)"/>
<circle cx="336.1" cy="43.4" r="1" fill="url(#pb)"/>
<circle cx="340.0" cy="43.4" r="1" fill="url(#pb)"/>
<circle cx="335.7" cy="46.1" r="1" fill="url(#pb)"/>
<circle cx="339.8" cy="46.1" r="1" fill="url(#pb)"/>
<circle cx="335.2" cy="48.8" r="1" fill="url(#pb)"/>
<circle cx="339.7" cy="48.8" r="1" fill="url(#pb)"/>
<circle cx="334.7" cy="51.5" r="1" fill="url(#pb)"/>
<circle cx="339.7" cy="51.5" r="1" fill="url(#pb)"/>
<circle cx="334.1" cy="54.2" r="1" fill="url(#pb)"/>
<circle cx="339.7" cy="54.2" r="1" fill="url(#pb)"/>
<circle cx="333.5" cy="56.8" r="1" fill="url(#pb)"/>
<circle cx="339.8" cy="56.8" r="1" fill="url(#pb)"/>
<circle cx="332.8" cy="59.5" r="1" fill="url(#pb)"/>
<circle cx="339.9" cy="59.5" r="1" fill="url(#pb)"/>
<circle cx="332.1" cy="62.2" r="1" fill="url(#pb)"/>
<circle cx="340.1" cy="62.2" r="1" fill="url(#pb)"/>
<circle cx="331.3" cy="64.9" r="1" fill="url(#pb)"/>
<circle cx="340.4" cy="64.9" r="1" fill="url(#pb)"/>
<circle cx="330.5" cy="67.6" r="1" fill="url(#pb)"/>
<circle cx="340.7" cy="67.6" r="1" fill="url(#pb)"/>
<circle cx="329.7" cy="70.2" r="1" fill="url(#pb)"/>
<circle cx="341.0" cy="70.2" r="1" fill="url(#pb)"/>
<circle cx="328.9" cy="72.9" r="1" fill="url(#pb)"/>
<circle cx="341.3" cy="72.9" r="1" fill="url(#pb)"/>
<circle cx="328.0" cy="75.6" r="1" fill="url(#pb)"/>
<circle cx="341.7" cy="75.6" r="1" fill="url(#pb)"/>
<path d="M103,55 H312.5 V77" fill="none" stroke="#404040" stroke-width="2"/>
<path d="M103,93.5 H298" fill="none" stroke="#404040" stroke-width="2"/>
<path d="M103,127 H207" fill="none" stroke="#404040" stroke-width="2"/>
<path d="M103,178 H235" fill="none" stroke="#404040" stroke-width="2"/>
<path d="M103,230.5 H260" fill="none" stroke="#404040" stroke-width="2"/>
<path d="M103,295.5 H283" fill="none" stroke="#404040" stroke-width="2"/>
<path d="M556,52.2 H439 L371,120" fill="none" stroke="#404040" stroke-width="2"/>
<path d="M556,95 H471 L359,157" fill="none" stroke="#404040" stroke-width="2"/>
<path d="M556,143.3 H402 L365,200" fill="none" stroke="#404040" stroke-width="2"/>
<path d="M556,213.6 H398 L340,201" fill="none" stroke="#404040" stroke-width="2"/>
<path d="M556,239.3 H365" fill="none" stroke="#404040" stroke-width="2"/>
<path d="M556,265 H410 L336,248" fill="none" stroke="#404040" stroke-width="2"/>
<path d="M556,293 H427 L334,269" fill="none" stroke="#404040" stroke-width="2"/>
<path d="M231,268 L278,244" stroke="#e01c1c" stroke-width="2.2"/>
<text x="41" y="60" class="lb" text-anchor="start">进料口</text>
<text x="41" y="99" class="lb" text-anchor="start">防尘盖</text>
<text x="41" y="136" class="lb" text-anchor="start">出料口</text>
<text x="58" y="185.6" class="lb" text-anchor="start">束环</text>
<text x="58" y="236.6" class="lb" text-anchor="start">弹簧</text>
<text x="58" y="301.6" class="lb" text-anchor="start">机座</text>
<text x="564" y="56.4" class="lb" text-anchor="start">筛网</text>
<text x="564" y="102.4" class="lb" text-anchor="start">网架</text>
<text x="564" y="151" class="lb" text-anchor="start">加重块</text>
<text x="564" y="221" class="lb" text-anchor="start">上部重锤</text>
<text x="564" y="245.7" class="lb" text-anchor="start">筛盘</text>
<text x="564" y="271.4" class="lb" text-anchor="start">振动电机</text>
<text x="564" y="300.3" class="lb" text-anchor="start">下部重锤</text>
<text x="67.5" y="271" class="red">运输用固定螺栓试机时去掉</text>
<rect x="10.5" y="532" width="169.0" height="102" fill="#f1f1f1"/>
<rect x="184" y="532" width="167.5" height="102" fill="#f1f1f1"/>
<rect x="356" y="532" width="167.5" height="102" fill="#f1f1f1"/>
<rect x="528" y="532" width="167.5" height="102" fill="#f1f1f1"/>
<rect x="9.3" y="348.5" width="687.9" height="287.2" fill="none" stroke="#4b4b4b" stroke-width="2.5"/>
<line x1="181.5" y1="348" x2="181.5" y2="636" stroke="#4b4b4b" stroke-width="2"/>
<line x1="353.5" y1="348" x2="353.5" y2="636" stroke="#4b4b4b" stroke-width="2"/>
<line x1="525.5" y1="348" x2="525.5" y2="636" stroke="#4b4b4b" stroke-width="2"/>
<line x1="9" y1="529.5" x2="697" y2="529.5" stroke="#4b4b4b" stroke-width="2"/>
<circle cx="86" cy="412.8" r="43.5" fill="none" stroke="#222" stroke-width="1.6"/>
<circle cx="260" cy="412.8" r="43.5" fill="none" stroke="#222" stroke-width="1.6"/>
<circle cx="433.5" cy="412.8" r="43.5" fill="none" stroke="#222" stroke-width="1.6"/>
<circle cx="603.5" cy="412.8" r="43.5" fill="none" stroke="#222" stroke-width="1.6"/>
<path d="M86,413 V381" fill="none" stroke="#111" stroke-width="3.4" marker-end="url(#ah1)"/>
<path d="M86,413 V445" fill="none" stroke="#111" stroke-width="3.4" marker-end="url(#ah1)"/>
<path d="M86,413 H53.5" fill="none" stroke="#111" stroke-width="3.4" marker-end="url(#ah1)"/>
<path d="M86,413 H118.5" fill="none" stroke="#111" stroke-width="3.4" marker-end="url(#ah1)"/>
<path d="M259.5,412.7 Q245.5,392.7 259.5,380.7" fill="none" stroke="#111" stroke-width="3.6" marker-end="url(#ah2)"/>
<path d="M259.5,412.7 Q279.5,398.7 291.5,412.7" fill="none" stroke="#111" stroke-width="3.6" marker-end="url(#ah2)"/>
<path d="M259.5,412.7 Q273.5,432.7 259.5,444.7" fill="none" stroke="#111" stroke-width="3.6" marker-end="url(#ah2)"/>
<path d="M259.5,412.7 Q239.5,426.7 227.5,412.7" fill="none" stroke="#111" stroke-width="3.6" marker-end="url(#ah2)"/>
<path d="M434,412 C407,402 409,377 429,378.5" fill="none" stroke="#111" stroke-width="4.6" marker-end="url(#ah3)"/>
<path d="M434,412 C444,385 469,387 467.5,407" fill="none" stroke="#111" stroke-width="4.6" marker-end="url(#ah3)"/>
<path d="M434,412 C461,422 459,447 439,445.5" fill="none" stroke="#111" stroke-width="4.6" marker-end="url(#ah3)"/>
<path d="M434,412 C424,439 399,437 400.5,417" fill="none" stroke="#111" stroke-width="4.6" marker-end="url(#ah3)"/>
<path d="M590.5,371.2 Q603.5,380.2 603.5,399.7" fill="none" stroke="#111" stroke-width="4" marker-end="url(#ah4)"/>
<path d="M644.5,399.2 Q635.5,412.2 616.0,412.2" fill="none" stroke="#111" stroke-width="4" marker-end="url(#ah4)"/>
<path d="M616.5,453.2 Q603.5,444.2 603.5,424.7" fill="none" stroke="#111" stroke-width="4" marker-end="url(#ah4)"/>
<path d="M562.5,425.2 Q571.5,412.2 591.0,412.2" fill="none" stroke="#111" stroke-width="4" marker-end="url(#ah4)"/>
<line x1="86" y1="471" x2="86" y2="488" stroke="#111" stroke-width="1.8"/>
<rect x="82.5" y="467.8" width="7" height="6.4" fill="#111" transform="rotate(0.0 86 471)"/>
<circle cx="86" cy="488" r="4" fill="#111"/>
<line x1="86" y1="500" x2="86" y2="517" stroke="#111" stroke-width="1.8"/>
<rect x="82.5" y="496.8" width="7" height="6.4" fill="#111" transform="rotate(0.0 86 500)"/>
<circle cx="86" cy="517" r="4" fill="#111"/>
<line x1="261" y1="473" x2="261" y2="489" stroke="#111" stroke-width="1.8"/>
<rect x="257.5" y="469.8" width="7" height="6.4" fill="#111" transform="rotate(0.0 261 473)"/>
<circle cx="261" cy="489" r="4" fill="#111"/>
<line x1="259" y1="503" x2="264" y2="518" stroke="#111" stroke-width="1.8"/>
<rect x="255.5" y="499.8" width="7" height="6.4" fill="#111" transform="rotate(-18.4 259 503)"/>
<circle cx="264" cy="518" r="4" fill="#111"/>
<line x1="424.5" y1="469.5" x2="424" y2="485.7" stroke="#111" stroke-width="1.8"/>
<rect x="421.0" y="466.3" width="7" height="6.4" fill="#111" transform="rotate(1.8 424.5 469.5)"/>
<circle cx="424" cy="485.7" r="4" fill="#111"/>
<line x1="418" y1="504.6" x2="430" y2="516" stroke="#111" stroke-width="1.8"/>
<rect x="414.5" y="501.40000000000003" width="7" height="6.4" fill="#111" transform="rotate(-46.5 418 504.6)"/>
<circle cx="430" cy="516" r="4" fill="#111"/>
<line x1="592" y1="465" x2="592" y2="482" stroke="#111" stroke-width="1.8"/>
<rect x="588.5" y="461.8" width="7" height="6.4" fill="#111" transform="rotate(0.0 592 465)"/>
<circle cx="592" cy="482" r="4" fill="#111"/>
<line x1="583.5" y1="505.2" x2="600.2" y2="505.2" stroke="#111" stroke-width="1.8"/>
<rect x="580.0" y="502.0" width="7" height="6.4" fill="#111" transform="rotate(-90.0 583.5 505.2)"/>
<circle cx="600.2" cy="505.2" r="4" fill="#111"/>
<text x="105.5" y="503" class="num">0</text>
<text x="276" y="504.8" class="num">15</text>
<text x="445.5" y="501.2" class="num">45</text>
<text x="613.5" y="485.8" class="num">90</text>
<circle cx="120" cy="492" r="1.6" fill="none" stroke="#999" stroke-width="1"/>
<circle cx="298.5" cy="494.5" r="1.6" fill="none" stroke="#999" stroke-width="1"/>
<circle cx="470.5" cy="491.5" r="1.6" fill="none" stroke="#999" stroke-width="1"/>
<circle cx="635" cy="474" r="1.6" fill="none" stroke="#999" stroke-width="1"/>
<text x="615.5" y="504.5" style="font-size:18.5px;fill:#222;font-weight:500">以上</text>
<text x="19" y="557" class="tb">概略分级:</text>
<text x="19" y="583" class="tc">物料由中心向四</text>
<text x="19" y="608" class="tc">周运动</text>
<text x="194" y="587" class="tc2">用于一般筛分</text>
<text x="364" y="557" class="tb">精密筛分:</text>
<text x="364" y="583" class="tc">物料在筛面上运</text>
<text x="364" y="608" class="tc">动轨迹最长</text>
<text x="538" y="557" class="tb">特殊用途:</text>
<text x="538" y="583" class="tc">物料由四周向中</text>
<text x="538" y="608" class="tc">心运动</text>
<rect x="7.25" y="674.75" width="218.5" height="181.5" fill="#fff" stroke="#333" stroke-width="2.5"/>
<rect x="243.25" y="674.75" width="218.5" height="181.5" fill="#fff" stroke="#333" stroke-width="2.5"/>
<rect x="479.25" y="674.75" width="218.0" height="181.5" fill="#fff" stroke="#333" stroke-width="2.5"/>
<rect x="66" y="710" width="91" height="90" fill="#cfe8f3" stroke="#3c3c3c" stroke-width="1.3"/>
<line x1="66" y1="729" x2="157" y2="729" stroke="#8aa8b5" stroke-width="1"/>
<line x1="66" y1="744" x2="157" y2="744" stroke="#8aa8b5" stroke-width="1"/>
<line x1="66" y1="768" x2="157" y2="768" stroke="#8aa8b5" stroke-width="1"/>
<line x1="66" y1="777" x2="157" y2="777" stroke="#8aa8b5" stroke-width="1"/>
<rect x="94" y="686" width="37" height="114" fill="#fff"/>
<path d="M94,686 V800 M131,686 V800" stroke="#3c3c3c" stroke-width="1.3"/>
<line x1="94" y1="723" x2="131" y2="723" stroke="#777" stroke-width="1.2"/>
<line x1="94" y1="743" x2="131" y2="743" stroke="#777" stroke-width="1.2"/>
<line x1="94" y1="762" x2="131" y2="762" stroke="#777" stroke-width="1.2"/>
<line x1="94" y1="781" x2="131" y2="781" stroke="#777" stroke-width="1.2"/>
<path d="M94,735 H42.5 V755 H37.5 L51.5,766.5 L65.5,755 H60.5 V743.5 H94 Z" fill="#fff" stroke="#5e5e5e" stroke-width="2.2" stroke-linejoin="miter"/>
<path d="M94,735 H42.5 V755 H37.5 L51.5,766.5 L65.5,755 H60.5 V743.5 H94 Z" fill="none" stroke="#b9c4c9" stroke-width="0.7" stroke-linejoin="miter"/>
<path d="M94,770 H42.5 V792 H37.5 L51.5,802 L65.5,792 H60.5 V780 H94 Z" fill="#fff" stroke="#5e5e5e" stroke-width="2.2" stroke-linejoin="miter"/>
<path d="M94,770 H42.5 V792 H37.5 L51.5,802 L65.5,792 H60.5 V780 H94 Z" fill="none" stroke="#b9c4c9" stroke-width="0.7" stroke-linejoin="miter"/>
<path d="M131,714 H182 V733 H188 L173.5,745 L159,733 H165 V723 H131 Z" fill="#fff" stroke="#5e5e5e" stroke-width="2.2" stroke-linejoin="miter"/>
<path d="M131,714 H182 V733 H188 L173.5,745 L159,733 H165 V723 H131 Z" fill="none" stroke="#b9c4c9" stroke-width="0.7" stroke-linejoin="miter"/>
<path d="M131,753 H182 V771 H188 L173.5,783 L159,771 H165 V762 H131 Z" fill="#fff" stroke="#5e5e5e" stroke-width="2.2" stroke-linejoin="miter"/>
<path d="M131,753 H182 V771 H188 L173.5,783 L159,771 H165 V762 H131 Z" fill="none" stroke="#b9c4c9" stroke-width="0.7" stroke-linejoin="miter"/>
<path d="M95,781 H178 V806 H184 L169.5,820 L155,806 H161 V792 H95 Z" fill="#fff" stroke="#5e5e5e" stroke-width="2.2" stroke-linejoin="miter"/>
<path d="M95,781 H178 V806 H184 L169.5,820 L155,806 H161 V792 H95 Z" fill="none" stroke="#b9c4c9" stroke-width="0.7" stroke-linejoin="miter"/>
<rect x="75" y="802" width="73" height="10" fill="#cfe8f3" stroke="#3c3c3c" stroke-width="1.3"/>
<path d="M66,804 Q67,799 74,799 H149 Q156,799 157,804 L148,808 V802 H75 V808 Z" fill="#cfe8f3" stroke="#3c3c3c" stroke-width="1.3" stroke-linejoin="round"/>
<rect x="75.1" y="802" width="2.8" height="10" fill="#2a2a2a"/>
<rect x="89.1" y="802" width="2.8" height="10" fill="#2a2a2a"/>
<rect x="103.1" y="802" width="2.8" height="10" fill="#2a2a2a"/>
<rect x="117.1" y="802" width="2.8" height="10" fill="#2a2a2a"/>
<rect x="131.1" y="802" width="2.8" height="10" fill="#2a2a2a"/>
<rect x="145.1" y="802" width="2.8" height="10" fill="#2a2a2a"/>
<rect x="78" y="812" width="68" height="30" fill="#cfe8f3" stroke="#3c3c3c" stroke-width="1.4"/>
<line x1="74.5" y1="842" x2="149.5" y2="842" stroke="#3c3c3c" stroke-width="2"/>
<circle cx="99.4" cy="691.7" r="1.5" fill="#2a72c8"/>
<circle cx="108.3" cy="691.7" r="1.5" fill="#2a72c8"/>
<circle cx="113.6" cy="690.9" r="3.4" fill="#2a72c8"/>
<circle cx="123.4" cy="692.2" r="3.4" fill="#2a72c8"/>
<circle cx="102.6" cy="700.1" r="3.4" fill="#2a72c8"/>
<circle cx="111.1" cy="699.2" r="3.4" fill="#2a72c8"/>
<circle cx="119.7" cy="698.7" r="3.4" fill="#2a72c8"/>
<circle cx="128.2" cy="699.8" r="3.4" fill="#2a72c8"/>
<circle cx="99.8" cy="705.7" r="1.5" fill="#2a72c8"/>
<circle cx="107.4" cy="705.9" r="3.4" fill="#2a72c8"/>
<circle cx="116.4" cy="705.5" r="3.4" fill="#2a72c8"/>
<circle cx="124.4" cy="706.0" r="3.4" fill="#2a72c8"/>
<circle cx="102.4" cy="716.4" r="1.5" fill="#2a72c8"/>
<circle cx="112.1" cy="715.4" r="3.4" fill="#2a72c8"/>
<circle cx="120.3" cy="715.6" r="3.4" fill="#2a72c8"/>
<circle cx="126.4" cy="714.6" r="3.4" fill="#2a72c8"/>
<circle cx="100.3" cy="727.3" r="2.6" fill="#2a72c8"/>
<circle cx="106.5" cy="729.0" r="2.6" fill="#2a72c8"/>
<circle cx="115.3" cy="728.3" r="2.6" fill="#2a72c8"/>
<circle cx="123.6" cy="726.7" r="2.6" fill="#2a72c8"/>
<circle cx="102.6" cy="734.4" r="2.6" fill="#2a72c8"/>
<circle cx="111.6" cy="734.1" r="2.6" fill="#2a72c8"/>
<circle cx="118.9" cy="734.0" r="2.6" fill="#2a72c8"/>
<circle cx="126.3" cy="736.3" r="2.6" fill="#2a72c8"/>
<circle cx="100.3" cy="747.6" r="2.4" fill="#2a72c8"/>
<circle cx="106.7" cy="748.1" r="2.4" fill="#2a72c8"/>
<circle cx="114.8" cy="747.6" r="2.4" fill="#2a72c8"/>
<circle cx="124.0" cy="747.9" r="2.4" fill="#2a72c8"/>
<circle cx="103.6" cy="755.4" r="2.4" fill="#2a72c8"/>
<circle cx="112.4" cy="753.9" r="2.4" fill="#2a72c8"/>
<circle cx="118.2" cy="756.0" r="2.4" fill="#2a72c8"/>
<circle cx="126.9" cy="755.0" r="2.4" fill="#2a72c8"/>
<circle cx="100.2" cy="765.3" r="2.2" fill="#2a72c8"/>
<circle cx="106.9" cy="766.3" r="2.2" fill="#2a72c8"/>
<circle cx="115.8" cy="765.6" r="2.2" fill="#2a72c8"/>
<circle cx="122.4" cy="765.8" r="2.2" fill="#2a72c8"/>
<circle cx="104.4" cy="771.1" r="2.2" fill="#2a72c8"/>
<circle cx="111.0" cy="771.6" r="2.2" fill="#2a72c8"/>
<circle cx="117.9" cy="771.3" r="2.2" fill="#2a72c8"/>
<circle cx="127.6" cy="770.8" r="2.2" fill="#2a72c8"/>
<circle cx="47.6" cy="738.9" r="2.3" fill="#2a72c8"/>
<circle cx="56.9" cy="739.9" r="2.3" fill="#2a72c8"/>
<circle cx="65.7" cy="738.9" r="2.3" fill="#2a72c8"/>
<circle cx="74.0" cy="740.2" r="2.3" fill="#2a72c8"/>
<circle cx="81.7" cy="739.8" r="2.3" fill="#2a72c8"/>
<circle cx="49.8" cy="746.6" r="2.3" fill="#2a72c8"/>
<circle cx="55.2" cy="747.5" r="2.3" fill="#2a72c8"/>
<circle cx="50.8" cy="755.5" r="2.3" fill="#2a72c8"/>
<circle cx="45.9" cy="776.9" r="2.1" fill="#2a72c8"/>
<circle cx="56.4" cy="776.4" r="2.1" fill="#2a72c8"/>
<circle cx="64.5" cy="774.6" r="2.1" fill="#2a72c8"/>
<circle cx="75.4" cy="775.7" r="2.1" fill="#2a72c8"/>
<circle cx="81.9" cy="776.7" r="2.1" fill="#2a72c8"/>
<circle cx="48.2" cy="783.0" r="2.1" fill="#2a72c8"/>
<circle cx="54.1" cy="782.7" r="2.1" fill="#2a72c8"/>
<circle cx="51.3" cy="789.9" r="2.1" fill="#2a72c8"/>
<circle cx="136.3" cy="718.4" r="2.8" fill="#2a72c8"/>
<circle cx="143.0" cy="718.1" r="2.8" fill="#2a72c8"/>
<circle cx="154.4" cy="718.6" r="2.8" fill="#2a72c8"/>
<circle cx="161.5" cy="717.3" r="2.8" fill="#2a72c8"/>
<circle cx="170.9" cy="719.2" r="2.8" fill="#2a72c8"/>
<circle cx="166.8" cy="728.0" r="2.6" fill="#2a72c8"/>
<circle cx="175.1" cy="726.0" r="2.6" fill="#2a72c8"/>
<circle cx="172.8" cy="735.1" r="2.6" fill="#2a72c8"/>
<circle cx="134.0" cy="757.0" r="2.3" fill="#2a72c8"/>
<circle cx="144.0" cy="757.1" r="2.3" fill="#2a72c8"/>
<circle cx="153.0" cy="755.7" r="2.3" fill="#2a72c8"/>
<circle cx="162.9" cy="756.6" r="2.3" fill="#2a72c8"/>
<circle cx="171.3" cy="755.6" r="2.3" fill="#2a72c8"/>
<circle cx="167.4" cy="765.2" r="2.2" fill="#2a72c8"/>
<circle cx="175.5" cy="766.0" r="2.2" fill="#2a72c8"/>
<circle cx="170.8" cy="772.4" r="2.2" fill="#2a72c8"/>
<circle cx="123.9" cy="788.9" r="0.8" fill="#2a72c8"/>
<circle cx="171.1" cy="796.5" r="0.8" fill="#2a72c8"/>
<circle cx="165.7" cy="805.7" r="1" fill="#2a72c8"/>
<circle cx="172.6" cy="800.1" r="0.8" fill="#2a72c8"/>
<circle cx="164.5" cy="792.3" r="0.8" fill="#2a72c8"/>
<circle cx="153.9" cy="783.9" r="0.8" fill="#2a72c8"/>
<circle cx="149.3" cy="785.4" r="0.8" fill="#2a72c8"/>
<circle cx="126.5" cy="784.2" r="1" fill="#2a72c8"/>
<circle cx="172.7" cy="810.0" r="1" fill="#2a72c8"/>
<circle cx="134.7" cy="789.6" r="0.8" fill="#2a72c8"/>
<circle cx="167.6" cy="783.0" r="0.8" fill="#2a72c8"/>
<circle cx="166.2" cy="801.6" r="1" fill="#2a72c8"/>
<circle cx="131.1" cy="790.5" r="1" fill="#2a72c8"/>
<circle cx="116.8" cy="783.6" r="1" fill="#2a72c8"/>
<circle cx="134.7" cy="787.0" r="1" fill="#2a72c8"/>
<circle cx="116.4" cy="784.3" r="0.8" fill="#2a72c8"/>
<circle cx="162.3" cy="783.4" r="1" fill="#2a72c8"/>
<circle cx="163.7" cy="806.8" r="1" fill="#2a72c8"/>
<circle cx="143.7" cy="784.2" r="1" fill="#2a72c8"/>
<circle cx="163.5" cy="798.7" r="0.8" fill="#2a72c8"/>
<circle cx="168.0" cy="798.3" r="0.8" fill="#2a72c8"/>
<circle cx="121.0" cy="783.1" r="1" fill="#2a72c8"/>
<circle cx="167.2" cy="815.1" r="0.8" fill="#2a72c8"/>
<circle cx="118.1" cy="785.8" r="0.8" fill="#2a72c8"/>
<circle cx="149.4" cy="783.8" r="1" fill="#2a72c8"/>
<circle cx="152.4" cy="784.6" r="0.8" fill="#2a72c8"/>
<circle cx="172.2" cy="806.5" r="0.8" fill="#2a72c8"/>
<circle cx="175.5" cy="806.3" r="1" fill="#2a72c8"/>
<circle cx="129.7" cy="788.3" r="0.8" fill="#2a72c8"/>
<circle cx="100.4" cy="786.6" r="1" fill="#2a72c8"/>
<circle cx="142.1" cy="786.9" r="1" fill="#2a72c8"/>
<circle cx="166.4" cy="787.4" r="1" fill="#2a72c8"/>
<circle cx="140.4" cy="790.3" r="0.8" fill="#2a72c8"/>
<circle cx="107.6" cy="790.7" r="1" fill="#2a72c8"/>
<circle cx="107.4" cy="783.6" r="1" fill="#2a72c8"/>
<circle cx="104.2" cy="787.1" r="1" fill="#2a72c8"/>
<circle cx="159.9" cy="784.0" r="1" fill="#2a72c8"/>
<circle cx="101.2" cy="788.0" r="1" fill="#2a72c8"/>
<circle cx="150.8" cy="790.4" r="0.8" fill="#2a72c8"/>
<circle cx="135.8" cy="790.0" r="1" fill="#2a72c8"/>
<circle cx="125.0" cy="790.8" r="1" fill="#2a72c8"/>
<circle cx="170.5" cy="806.3" r="1" fill="#2a72c8"/>
<circle cx="125.6" cy="784.2" r="0.8" fill="#2a72c8"/>
<circle cx="104.7" cy="784.1" r="0.8" fill="#2a72c8"/>
<circle cx="171.0" cy="804.8" r="1" fill="#2a72c8"/>
<circle cx="167.3" cy="803.4" r="1" fill="#2a72c8"/>
<circle cx="165.6" cy="798.5" r="1" fill="#2a72c8"/>
<circle cx="122.0" cy="784.9" r="0.8" fill="#2a72c8"/>
<circle cx="171.7" cy="786.9" r="1" fill="#2a72c8"/>
<circle cx="154.6" cy="788.4" r="0.8" fill="#2a72c8"/>
<circle cx="169.0" cy="806.3" r="1" fill="#2a72c8"/>
<circle cx="110.9" cy="789.9" r="0.8" fill="#2a72c8"/>
<circle cx="174.1" cy="783.2" r="0.8" fill="#2a72c8"/>
<circle cx="110.4" cy="784.1" r="1" fill="#2a72c8"/>
<circle cx="171.2" cy="806.6" r="0.8" fill="#2a72c8"/>
<circle cx="168.0" cy="799.2" r="1" fill="#2a72c8"/>
<circle cx="101.1" cy="784.2" r="0.8" fill="#2a72c8"/>
<circle cx="169.8" cy="802.7" r="0.8" fill="#2a72c8"/>
<circle cx="107.5" cy="783.4" r="1" fill="#2a72c8"/>
<circle cx="176.0" cy="801.3" r="0.8" fill="#2a72c8"/>
<circle cx="121.6" cy="785.9" r="1" fill="#2a72c8"/>
<circle cx="107.3" cy="785.7" r="0.8" fill="#2a72c8"/>
<circle cx="173.5" cy="805.0" r="1" fill="#2a72c8"/>
<circle cx="100.8" cy="789.6" r="1" fill="#2a72c8"/>
<circle cx="166.7" cy="812.2" r="0.8" fill="#2a72c8"/>
<circle cx="167.8" cy="804.6" r="0.8" fill="#2a72c8"/>
<circle cx="172.4" cy="807.0" r="1" fill="#2a72c8"/>
<circle cx="127.2" cy="787.3" r="0.8" fill="#2a72c8"/>
<circle cx="121.2" cy="787.5" r="1" fill="#2a72c8"/>
<circle cx="141.0" cy="783.9" r="0.8" fill="#2a72c8"/>
<circle cx="173.6" cy="810.3" r="1" fill="#2a72c8"/>
<circle cx="164.9" cy="814.3" r="0.8" fill="#2a72c8"/>
<circle cx="162.3" cy="807.0" r="0.8" fill="#2a72c8"/>
<circle cx="146.8" cy="787.8" r="1" fill="#2a72c8"/>
<circle cx="159.8" cy="786.9" r="1" fill="#2a72c8"/>
<circle cx="132.2" cy="790.5" r="1" fill="#2a72c8"/>
<circle cx="110.6" cy="784.6" r="0.8" fill="#2a72c8"/>
<circle cx="144.1" cy="786.4" r="1" fill="#2a72c8"/>
<circle cx="151.2" cy="789.8" r="0.8" fill="#2a72c8"/>
<circle cx="128.0" cy="790.1" r="1" fill="#2a72c8"/>
<circle cx="160.9" cy="809.9" r="0.8" fill="#2a72c8"/>
<circle cx="135.7" cy="784.2" r="0.8" fill="#2a72c8"/>
<circle cx="159.9" cy="807.9" r="1" fill="#2a72c8"/>
<circle cx="126.7" cy="783.3" r="0.8" fill="#2a72c8"/>
<circle cx="161.2" cy="783.7" r="0.8" fill="#2a72c8"/>
<circle cx="170.8" cy="801.4" r="0.8" fill="#2a72c8"/>
<circle cx="119.4" cy="785.6" r="0.8" fill="#2a72c8"/>
<circle cx="165.2" cy="814.1" r="1" fill="#2a72c8"/>
<circle cx="167.9" cy="805.7" r="0.8" fill="#2a72c8"/>
<circle cx="135.2" cy="786.0" r="0.8" fill="#2a72c8"/>
<rect x="296" y="729" width="101" height="60" fill="#cfe8f3" stroke="#3c3c3c" stroke-width="1.3"/>
<path d="M316,748 H376 Q379,764 397,768 V791.0 L316,760.5247524752475 Z" fill="#fff"/>
<path d="M397,768 H424.5 V791 H431 L414,808 L397,791 H404 V778 H397" fill="#fff" stroke="#5e5e5e" stroke-width="2.2" stroke-linejoin="miter"/>
<path d="M397,768 H424.5 V791 H431 L414,808 L397,791 H404 V778 H397" fill="none" stroke="#b9c4c9" stroke-width="0.7" stroke-linejoin="miter"/>
<path d="M397,768 V778" stroke="#fff" stroke-width="2.5"/>
<path d="M296,749 H397" stroke="#9fb5bf" stroke-width="1"/>
<path d="M296,753.0 L397,791.0" stroke="#3c3c3c" stroke-width="1.4"/>
<path d="M316,737 H268 V763 H262 L277.0,776 L292,763 H286 V748 H316 Z" fill="#fff" stroke="#5e5e5e" stroke-width="2.2" stroke-linejoin="miter"/>
<path d="M316,737 H268 V763 H262 L277.0,776 L292,763 H286 V748 H316 Z" fill="none" stroke="#b9c4c9" stroke-width="0.7" stroke-linejoin="miter"/>
<rect x="315.5" y="689" width="60.5" height="59" fill="#fff"/>
<path d="M315.5,689 V748 M376,689 V748" stroke="#3c3c3c" stroke-width="1.6"/>
<rect x="304.5" y="792" width="83.5" height="9" fill="#cfe8f3" stroke="#3c3c3c" stroke-width="1.3"/>
<path d="M295.5,794 Q296.5,789 303.5,789 H389 Q396,789 397,794 L388,798 V792 H304.5 V798 Z" fill="#cfe8f3" stroke="#3c3c3c" stroke-width="1.3" stroke-linejoin="round"/>
<rect x="304.6" y="792" width="2.8" height="9" fill="#2a2a2a"/>
<rect x="320.7" y="792" width="2.8" height="9" fill="#2a2a2a"/>
<rect x="336.8" y="792" width="2.8" height="9" fill="#2a2a2a"/>
<rect x="352.9" y="792" width="2.8" height="9" fill="#2a2a2a"/>
<rect x="369.0" y="792" width="2.8" height="9" fill="#2a2a2a"/>
<rect x="385.1" y="792" width="2.8" height="9" fill="#2a2a2a"/>
<rect x="308" y="801" width="77.5" height="34" fill="#cfe8f3" stroke="#3c3c3c" stroke-width="1.4"/>
<line x1="304.5" y1="835" x2="389.0" y2="835" stroke="#3c3c3c" stroke-width="2"/>
<circle cx="317.5" cy="692.9" r="0.95" fill="#2a72c8"/>
<circle cx="321.4" cy="691.8" r="0.95" fill="#2a72c8"/>
<circle cx="323.6" cy="691.8" r="0.95" fill="#2a72c8"/>
<circle cx="327.3" cy="692.3" r="0.95" fill="#2a72c8"/>
<circle cx="332.0" cy="692.8" r="0.95" fill="#2a72c8"/>
<circle cx="334.7" cy="691.8" r="0.95" fill="#2a72c8"/>
<circle cx="337.0" cy="692.4" r="0.95" fill="#2a72c8"/>
<circle cx="341.2" cy="692.4" r="0.95" fill="#2a72c8"/>
<circle cx="344.1" cy="692.8" r="0.95" fill="#2a72c8"/>
<circle cx="347.1" cy="691.6" r="0.95" fill="#2a72c8"/>
<circle cx="350.5" cy="692.2" r="0.95" fill="#2a72c8"/>
<circle cx="355.1" cy="691.3" r="0.95" fill="#2a72c8"/>
<circle cx="357.9" cy="692.5" r="0.95" fill="#2a72c8"/>
<circle cx="360.3" cy="691.1" r="0.95" fill="#2a72c8"/>
<circle cx="364.3" cy="692.7" r="0.95" fill="#2a72c8"/>
<circle cx="368.3" cy="692.5" r="0.95" fill="#2a72c8"/>
<circle cx="370.6" cy="691.9" r="0.95" fill="#2a72c8"/>
<circle cx="319.7" cy="695.9" r="0.95" fill="#2a72c8"/>
<circle cx="322.6" cy="694.7" r="0.95" fill="#2a72c8"/>
<circle cx="326.5" cy="696.0" r="0.95" fill="#2a72c8"/>
<circle cx="328.9" cy="694.2" r="0.95" fill="#2a72c8"/>
<circle cx="332.1" cy="695.2" r="0.95" fill="#2a72c8"/>
<circle cx="336.4" cy="694.5" r="0.95" fill="#2a72c8"/>
<circle cx="338.8" cy="695.3" r="0.95" fill="#2a72c8"/>
<circle cx="343.0" cy="695.5" r="0.95" fill="#2a72c8"/>
<circle cx="346.5" cy="694.2" r="0.95" fill="#2a72c8"/>
<circle cx="349.3" cy="695.8" r="0.95" fill="#2a72c8"/>
<circle cx="353.6" cy="694.7" r="0.95" fill="#2a72c8"/>
<circle cx="356.7" cy="695.4" r="0.95" fill="#2a72c8"/>
<circle cx="360.1" cy="694.6" r="0.95" fill="#2a72c8"/>
<circle cx="362.9" cy="695.8" r="0.95" fill="#2a72c8"/>
<circle cx="365.8" cy="694.3" r="0.95" fill="#2a72c8"/>
<circle cx="368.5" cy="694.4" r="0.95" fill="#2a72c8"/>
<circle cx="371.6" cy="694.4" r="0.95" fill="#2a72c8"/>
<circle cx="318.2" cy="697.4" r="0.95" fill="#2a72c8"/>
<circle cx="321.8" cy="698.7" r="0.95" fill="#2a72c8"/>
<circle cx="325.2" cy="698.8" r="0.95" fill="#2a72c8"/>
<circle cx="328.3" cy="699.0" r="0.95" fill="#2a72c8"/>
<circle cx="332.1" cy="698.5" r="0.95" fill="#2a72c8"/>
<circle cx="335.4" cy="697.4" r="0.95" fill="#2a72c8"/>
<circle cx="337.0" cy="697.3" r="0.95" fill="#2a72c8"/>
<circle cx="340.5" cy="697.9" r="0.95" fill="#2a72c8"/>
<circle cx="344.3" cy="698.6" r="0.95" fill="#2a72c8"/>
<circle cx="348.2" cy="697.4" r="0.95" fill="#2a72c8"/>
<circle cx="350.8" cy="698.3" r="0.95" fill="#2a72c8"/>
<circle cx="354.1" cy="697.4" r="0.95" fill="#2a72c8"/>
<circle cx="357.8" cy="697.9" r="0.95" fill="#2a72c8"/>
<circle cx="361.3" cy="698.2" r="0.95" fill="#2a72c8"/>
<circle cx="365.1" cy="699.1" r="0.95" fill="#2a72c8"/>
<circle cx="366.6" cy="698.7" r="0.95" fill="#2a72c8"/>
<circle cx="371.2" cy="697.8" r="0.95" fill="#2a72c8"/>
<circle cx="318.9" cy="701.3" r="0.95" fill="#2a72c8"/>
<circle cx="322.7" cy="701.8" r="0.95" fill="#2a72c8"/>
<circle cx="327.1" cy="701.1" r="0.95" fill="#2a72c8"/>
<circle cx="329.1" cy="701.3" r="0.95" fill="#2a72c8"/>
<circle cx="333.2" cy="701.9" r="0.95" fill="#2a72c8"/>
<circle cx="336.3" cy="700.9" r="0.95" fill="#2a72c8"/>
<circle cx="339.1" cy="702.0" r="0.95" fill="#2a72c8"/>
<circle cx="342.8" cy="700.4" r="0.95" fill="#2a72c8"/>
<circle cx="345.9" cy="700.8" r="0.95" fill="#2a72c8"/>
<circle cx="349.7" cy="700.4" r="0.95" fill="#2a72c8"/>
<circle cx="352.2" cy="700.5" r="0.95" fill="#2a72c8"/>
<circle cx="355.9" cy="702.3" r="0.95" fill="#2a72c8"/>
<circle cx="359.3" cy="701.1" r="0.95" fill="#2a72c8"/>
<circle cx="363.4" cy="700.5" r="0.95" fill="#2a72c8"/>
<circle cx="365.6" cy="701.9" r="0.95" fill="#2a72c8"/>
<circle cx="368.2" cy="701.8" r="0.95" fill="#2a72c8"/>
<circle cx="372.2" cy="700.3" r="0.95" fill="#2a72c8"/>
<circle cx="317.5" cy="704.3" r="0.95" fill="#2a72c8"/>
<circle cx="321.1" cy="704.4" r="0.95" fill="#2a72c8"/>
<circle cx="323.7" cy="703.8" r="0.95" fill="#2a72c8"/>
<circle cx="328.8" cy="704.3" r="0.95" fill="#2a72c8"/>
<circle cx="331.1" cy="703.6" r="0.95" fill="#2a72c8"/>
<circle cx="334.1" cy="705.3" r="0.95" fill="#2a72c8"/>
<circle cx="338.2" cy="704.4" r="0.95" fill="#2a72c8"/>
<circle cx="340.2" cy="704.2" r="0.95" fill="#2a72c8"/>
<circle cx="345.0" cy="704.3" r="0.95" fill="#2a72c8"/>
<circle cx="347.9" cy="705.2" r="0.95" fill="#2a72c8"/>
<circle cx="351.3" cy="704.7" r="0.95" fill="#2a72c8"/>
<circle cx="353.4" cy="703.4" r="0.95" fill="#2a72c8"/>
<circle cx="358.1" cy="704.2" r="0.95" fill="#2a72c8"/>
<circle cx="361.6" cy="705.1" r="0.95" fill="#2a72c8"/>
<circle cx="365.0" cy="704.2" r="0.95" fill="#2a72c8"/>
<circle cx="368.5" cy="704.9" r="0.95" fill="#2a72c8"/>
<circle cx="371.6" cy="703.7" r="0.95" fill="#2a72c8"/>
<circle cx="320.2" cy="707.3" r="0.95" fill="#2a72c8"/>
<circle cx="323.9" cy="708.5" r="0.95" fill="#2a72c8"/>
<circle cx="325.7" cy="707.3" r="0.95" fill="#2a72c8"/>
<circle cx="329.1" cy="707.4" r="0.95" fill="#2a72c8"/>
<circle cx="332.4" cy="707.8" r="0.95" fill="#2a72c8"/>
<circle cx="335.4" cy="706.8" r="0.95" fill="#2a72c8"/>
<circle cx="339.4" cy="706.6" r="0.95" fill="#2a72c8"/>
<circle cx="342.5" cy="708.3" r="0.95" fill="#2a72c8"/>
<circle cx="346.8" cy="706.9" r="0.95" fill="#2a72c8"/>
<circle cx="348.4" cy="708.2" r="0.95" fill="#2a72c8"/>
<circle cx="353.6" cy="707.7" r="0.95" fill="#2a72c8"/>
<circle cx="355.2" cy="707.0" r="0.95" fill="#2a72c8"/>
<circle cx="360.1" cy="708.4" r="0.95" fill="#2a72c8"/>
<circle cx="361.6" cy="706.9" r="0.95" fill="#2a72c8"/>
<circle cx="365.7" cy="707.0" r="0.95" fill="#2a72c8"/>
<circle cx="369.7" cy="707.2" r="0.95" fill="#2a72c8"/>
<circle cx="373.0" cy="706.8" r="0.95" fill="#2a72c8"/>
<circle cx="318.0" cy="711.5" r="0.95" fill="#2a72c8"/>
<circle cx="321.7" cy="709.8" r="0.95" fill="#2a72c8"/>
<circle cx="323.8" cy="710.9" r="0.95" fill="#2a72c8"/>
<circle cx="327.6" cy="710.3" r="0.95" fill="#2a72c8"/>
<circle cx="331.2" cy="710.8" r="0.95" fill="#2a72c8"/>
<circle cx="335.4" cy="710.1" r="0.95" fill="#2a72c8"/>
<circle cx="337.9" cy="710.1" r="0.95" fill="#2a72c8"/>
<circle cx="341.2" cy="711.1" r="0.95" fill="#2a72c8"/>
<circle cx="343.7" cy="710.6" r="0.95" fill="#2a72c8"/>
<circle cx="348.1" cy="709.6" r="0.95" fill="#2a72c8"/>
<circle cx="351.5" cy="710.4" r="0.95" fill="#2a72c8"/>
<circle cx="354.3" cy="710.8" r="0.95" fill="#2a72c8"/>
<circle cx="358.2" cy="709.7" r="0.95" fill="#2a72c8"/>
<circle cx="360.9" cy="709.7" r="0.95" fill="#2a72c8"/>
<circle cx="364.0" cy="710.3" r="0.95" fill="#2a72c8"/>
<circle cx="366.5" cy="710.2" r="0.95" fill="#2a72c8"/>
<circle cx="370.7" cy="710.9" r="0.95" fill="#2a72c8"/>
<circle cx="320.5" cy="713.4" r="0.95" fill="#2a72c8"/>
<circle cx="323.0" cy="714.1" r="0.95" fill="#2a72c8"/>
<circle cx="327.1" cy="714.6" r="0.95" fill="#2a72c8"/>
<circle cx="330.5" cy="713.3" r="0.95" fill="#2a72c8"/>
<circle cx="332.2" cy="714.6" r="0.95" fill="#2a72c8"/>
<circle cx="335.3" cy="713.6" r="0.95" fill="#2a72c8"/>
<circle cx="339.9" cy="713.8" r="0.95" fill="#2a72c8"/>
<circle cx="342.5" cy="714.5" r="0.95" fill="#2a72c8"/>
<circle cx="345.6" cy="713.8" r="0.95" fill="#2a72c8"/>
<circle cx="350.0" cy="713.0" r="0.95" fill="#2a72c8"/>
<circle cx="352.4" cy="713.7" r="0.95" fill="#2a72c8"/>
<circle cx="356.1" cy="713.1" r="0.95" fill="#2a72c8"/>
<circle cx="359.2" cy="712.8" r="0.95" fill="#2a72c8"/>
<circle cx="361.7" cy="713.4" r="0.95" fill="#2a72c8"/>
<circle cx="365.1" cy="714.6" r="0.95" fill="#2a72c8"/>
<circle cx="368.7" cy="713.3" r="0.95" fill="#2a72c8"/>
<circle cx="373.0" cy="714.2" r="0.95" fill="#2a72c8"/>
<circle cx="317.5" cy="717.5" r="0.95" fill="#2a72c8"/>
<circle cx="321.6" cy="716.6" r="0.95" fill="#2a72c8"/>
<circle cx="324.9" cy="716.3" r="0.95" fill="#2a72c8"/>
<circle cx="327.4" cy="717.6" r="0.95" fill="#2a72c8"/>
<circle cx="331.1" cy="717.6" r="0.95" fill="#2a72c8"/>
<circle cx="333.9" cy="716.1" r="0.95" fill="#2a72c8"/>
<circle cx="336.9" cy="717.3" r="0.95" fill="#2a72c8"/>
<circle cx="341.2" cy="715.8" r="0.95" fill="#2a72c8"/>
<circle cx="343.5" cy="717.4" r="0.95" fill="#2a72c8"/>
<circle cx="347.7" cy="717.5" r="0.95" fill="#2a72c8"/>
<circle cx="350.1" cy="717.0" r="0.95" fill="#2a72c8"/>
<circle cx="353.5" cy="717.2" r="0.95" fill="#2a72c8"/>
<circle cx="357.8" cy="717.0" r="0.95" fill="#2a72c8"/>
<circle cx="360.3" cy="717.7" r="0.95" fill="#2a72c8"/>
<circle cx="363.4" cy="715.9" r="0.95" fill="#2a72c8"/>
<circle cx="367.9" cy="716.0" r="0.95" fill="#2a72c8"/>
<circle cx="369.9" cy="716.7" r="0.95" fill="#2a72c8"/>
<circle cx="319.9" cy="720.7" r="0.95" fill="#2a72c8"/>
<circle cx="323.4" cy="719.0" r="0.95" fill="#2a72c8"/>
<circle cx="326.5" cy="720.6" r="0.95" fill="#2a72c8"/>
<circle cx="328.8" cy="720.4" r="0.95" fill="#2a72c8"/>
<circle cx="332.4" cy="719.5" r="0.95" fill="#2a72c8"/>
<circle cx="335.2" cy="720.4" r="0.95" fill="#2a72c8"/>
<circle cx="339.5" cy="720.7" r="0.95" fill="#2a72c8"/>
<circle cx="342.7" cy="719.2" r="0.95" fill="#2a72c8"/>
<circle cx="345.5" cy="719.4" r="0.95" fill="#2a72c8"/>
<circle cx="350.2" cy="719.3" r="0.95" fill="#2a72c8"/>
<circle cx="351.8" cy="719.6" r="0.95" fill="#2a72c8"/>
<circle cx="355.1" cy="719.8" r="0.95" fill="#2a72c8"/>
<circle cx="359.5" cy="720.2" r="0.95" fill="#2a72c8"/>
<circle cx="361.9" cy="719.2" r="0.95" fill="#2a72c8"/>
<circle cx="365.8" cy="720.3" r="0.95" fill="#2a72c8"/>
<circle cx="369.0" cy="720.0" r="0.95" fill="#2a72c8"/>
<circle cx="373.3" cy="719.2" r="0.95" fill="#2a72c8"/>
<circle cx="317.5" cy="723.0" r="0.95" fill="#2a72c8"/>
<circle cx="321.4" cy="723.8" r="0.95" fill="#2a72c8"/>
<circle cx="324.7" cy="723.3" r="0.95" fill="#2a72c8"/>
<circle cx="327.7" cy="723.6" r="0.95" fill="#2a72c8"/>
<circle cx="331.9" cy="722.6" r="0.95" fill="#2a72c8"/>
<circle cx="333.7" cy="722.5" r="0.95" fill="#2a72c8"/>
<circle cx="337.5" cy="723.8" r="0.95" fill="#2a72c8"/>
<circle cx="340.6" cy="723.3" r="0.95" fill="#2a72c8"/>
<circle cx="344.7" cy="723.9" r="0.95" fill="#2a72c8"/>
<circle cx="346.9" cy="723.5" r="0.95" fill="#2a72c8"/>
<circle cx="350.7" cy="722.2" r="0.95" fill="#2a72c8"/>
<circle cx="354.6" cy="723.7" r="0.95" fill="#2a72c8"/>
<circle cx="357.8" cy="722.1" r="0.95" fill="#2a72c8"/>
<circle cx="361.8" cy="722.8" r="0.95" fill="#2a72c8"/>
<circle cx="364.5" cy="723.4" r="0.95" fill="#2a72c8"/>
<circle cx="367.0" cy="722.8" r="0.95" fill="#2a72c8"/>
<circle cx="370.5" cy="722.2" r="0.95" fill="#2a72c8"/>
<circle cx="318.8" cy="726.5" r="0.95" fill="#2a72c8"/>
<circle cx="322.8" cy="726.8" r="0.95" fill="#2a72c8"/>
<circle cx="325.4" cy="725.7" r="0.95" fill="#2a72c8"/>
<circle cx="328.9" cy="727.0" r="0.95" fill="#2a72c8"/>
<circle cx="333.4" cy="726.9" r="0.95" fill="#2a72c8"/>
<circle cx="336.2" cy="725.3" r="0.95" fill="#2a72c8"/>
<circle cx="339.3" cy="725.6" r="0.95" fill="#2a72c8"/>
<circle cx="341.8" cy="726.2" r="0.95" fill="#2a72c8"/>
<circle cx="345.6" cy="725.3" r="0.95" fill="#2a72c8"/>
<circle cx="349.4" cy="727.0" r="0.95" fill="#2a72c8"/>
<circle cx="353.5" cy="726.0" r="0.95" fill="#2a72c8"/>
<circle cx="355.2" cy="726.6" r="0.95" fill="#2a72c8"/>
<circle cx="358.5" cy="726.2" r="0.95" fill="#2a72c8"/>
<circle cx="361.7" cy="727.1" r="0.95" fill="#2a72c8"/>
<circle cx="365.9" cy="726.0" r="0.95" fill="#2a72c8"/>
<circle cx="368.7" cy="726.2" r="0.95" fill="#2a72c8"/>
<circle cx="373.4" cy="726.0" r="0.95" fill="#2a72c8"/>
<circle cx="317.4" cy="729.2" r="0.95" fill="#2a72c8"/>
<circle cx="322.1" cy="729.0" r="0.95" fill="#2a72c8"/>
<circle cx="324.9" cy="730.0" r="0.95" fill="#2a72c8"/>
<circle cx="327.6" cy="729.8" r="0.95" fill="#2a72c8"/>
<circle cx="331.3" cy="728.5" r="0.95" fill="#2a72c8"/>
<circle cx="333.6" cy="730.1" r="0.95" fill="#2a72c8"/>
<circle cx="337.7" cy="729.1" r="0.95" fill="#2a72c8"/>
<circle cx="341.9" cy="729.3" r="0.95" fill="#2a72c8"/>
<circle cx="344.4" cy="728.8" r="0.95" fill="#2a72c8"/>
<circle cx="348.2" cy="728.7" r="0.95" fill="#2a72c8"/>
<circle cx="350.9" cy="729.7" r="0.95" fill="#2a72c8"/>
<circle cx="354.5" cy="728.5" r="0.95" fill="#2a72c8"/>
<circle cx="357.0" cy="729.6" r="0.95" fill="#2a72c8"/>
<circle cx="361.4" cy="728.4" r="0.95" fill="#2a72c8"/>
<circle cx="365.2" cy="728.5" r="0.95" fill="#2a72c8"/>
<circle cx="366.8" cy="728.4" r="0.95" fill="#2a72c8"/>
<circle cx="370.7" cy="729.4" r="0.95" fill="#2a72c8"/>
<circle cx="320.4" cy="731.6" r="0.95" fill="#2a72c8"/>
<circle cx="323.3" cy="731.5" r="0.95" fill="#2a72c8"/>
<circle cx="326.4" cy="731.8" r="0.95" fill="#2a72c8"/>
<circle cx="329.3" cy="731.4" r="0.95" fill="#2a72c8"/>
<circle cx="333.3" cy="731.5" r="0.95" fill="#2a72c8"/>
<circle cx="336.7" cy="732.0" r="0.95" fill="#2a72c8"/>
<circle cx="339.6" cy="732.6" r="0.95" fill="#2a72c8"/>
<circle cx="342.7" cy="733.0" r="0.95" fill="#2a72c8"/>
<circle cx="346.9" cy="731.9" r="0.95" fill="#2a72c8"/>
<circle cx="349.0" cy="733.1" r="0.95" fill="#2a72c8"/>
<circle cx="351.9" cy="732.1" r="0.95" fill="#2a72c8"/>
<circle cx="355.8" cy="733.3" r="0.95" fill="#2a72c8"/>
<circle cx="358.5" cy="732.6" r="0.95" fill="#2a72c8"/>
<circle cx="363.1" cy="732.8" r="0.95" fill="#2a72c8"/>
<circle cx="364.9" cy="733.2" r="0.95" fill="#2a72c8"/>
<circle cx="368.8" cy="733.0" r="0.95" fill="#2a72c8"/>
<circle cx="372.8" cy="732.1" r="0.95" fill="#2a72c8"/>
<circle cx="318.7" cy="735.8" r="0.95" fill="#2a72c8"/>
<circle cx="321.0" cy="735.9" r="0.95" fill="#2a72c8"/>
<circle cx="324.6" cy="735.8" r="0.95" fill="#2a72c8"/>
<circle cx="328.1" cy="736.0" r="0.95" fill="#2a72c8"/>
<circle cx="330.5" cy="735.4" r="0.95" fill="#2a72c8"/>
<circle cx="333.5" cy="736.0" r="0.95" fill="#2a72c8"/>
<circle cx="338.3" cy="736.1" r="0.95" fill="#2a72c8"/>
<circle cx="340.2" cy="735.5" r="0.95" fill="#2a72c8"/>
<circle cx="344.4" cy="734.6" r="0.95" fill="#2a72c8"/>
<circle cx="347.1" cy="736.3" r="0.95" fill="#2a72c8"/>
<circle cx="351.7" cy="734.9" r="0.95" fill="#2a72c8"/>
<circle cx="355.0" cy="735.7" r="0.95" fill="#2a72c8"/>
<circle cx="357.4" cy="735.7" r="0.95" fill="#2a72c8"/>
<circle cx="360.4" cy="734.9" r="0.95" fill="#2a72c8"/>
<circle cx="363.2" cy="735.7" r="0.95" fill="#2a72c8"/>
<circle cx="367.7" cy="735.9" r="0.95" fill="#2a72c8"/>
<circle cx="370.8" cy="735.3" r="0.95" fill="#2a72c8"/>
<circle cx="319.3" cy="739.0" r="0.95" fill="#2a72c8"/>
<circle cx="322.7" cy="738.7" r="0.95" fill="#2a72c8"/>
<circle cx="326.8" cy="738.4" r="0.95" fill="#2a72c8"/>
<circle cx="329.9" cy="737.6" r="0.95" fill="#2a72c8"/>
<circle cx="332.4" cy="739.2" r="0.95" fill="#2a72c8"/>
<circle cx="335.4" cy="737.6" r="0.95" fill="#2a72c8"/>
<circle cx="338.5" cy="739.0" r="0.95" fill="#2a72c8"/>
<circle cx="342.0" cy="738.4" r="0.95" fill="#2a72c8"/>
<circle cx="345.9" cy="739.1" r="0.95" fill="#2a72c8"/>
<circle cx="349.3" cy="738.5" r="0.95" fill="#2a72c8"/>
<circle cx="351.7" cy="739.1" r="0.95" fill="#2a72c8"/>
<circle cx="356.5" cy="738.7" r="0.95" fill="#2a72c8"/>
<circle cx="359.9" cy="738.7" r="0.95" fill="#2a72c8"/>
<circle cx="363.0" cy="739.2" r="0.95" fill="#2a72c8"/>
<circle cx="366.1" cy="737.5" r="0.95" fill="#2a72c8"/>
<circle cx="369.9" cy="739.5" r="0.95" fill="#2a72c8"/>
<circle cx="371.9" cy="737.6" r="0.95" fill="#2a72c8"/>
<circle cx="317.7" cy="740.8" r="0.95" fill="#2a72c8"/>
<circle cx="321.0" cy="740.8" r="0.95" fill="#2a72c8"/>
<circle cx="324.0" cy="740.6" r="0.95" fill="#2a72c8"/>
<circle cx="327.8" cy="741.2" r="0.95" fill="#2a72c8"/>
<circle cx="331.7" cy="741.4" r="0.95" fill="#2a72c8"/>
<circle cx="333.8" cy="742.5" r="0.95" fill="#2a72c8"/>
<circle cx="338.6" cy="742.0" r="0.95" fill="#2a72c8"/>
<circle cx="340.5" cy="741.4" r="0.95" fill="#2a72c8"/>
<circle cx="344.3" cy="741.4" r="0.95" fill="#2a72c8"/>
<circle cx="346.8" cy="741.5" r="0.95" fill="#2a72c8"/>
<circle cx="351.5" cy="742.0" r="0.95" fill="#2a72c8"/>
<circle cx="355.0" cy="742.0" r="0.95" fill="#2a72c8"/>
<circle cx="358.1" cy="742.3" r="0.95" fill="#2a72c8"/>
<circle cx="361.7" cy="742.2" r="0.95" fill="#2a72c8"/>
<circle cx="364.0" cy="741.9" r="0.95" fill="#2a72c8"/>
<circle cx="367.8" cy="742.4" r="0.95" fill="#2a72c8"/>
<circle cx="371.2" cy="741.5" r="0.95" fill="#2a72c8"/>
<circle cx="319.0" cy="744.4" r="0.95" fill="#2a72c8"/>
<circle cx="322.5" cy="745.1" r="0.95" fill="#2a72c8"/>
<circle cx="326.8" cy="744.1" r="0.95" fill="#2a72c8"/>
<circle cx="329.6" cy="745.4" r="0.95" fill="#2a72c8"/>
<circle cx="332.6" cy="743.9" r="0.95" fill="#2a72c8"/>
<circle cx="336.4" cy="744.4" r="0.95" fill="#2a72c8"/>
<circle cx="338.7" cy="744.3" r="0.95" fill="#2a72c8"/>
<circle cx="341.8" cy="744.0" r="0.95" fill="#2a72c8"/>
<circle cx="345.9" cy="743.9" r="0.95" fill="#2a72c8"/>
<circle cx="348.4" cy="744.8" r="0.95" fill="#2a72c8"/>
<circle cx="353.6" cy="745.4" r="0.95" fill="#2a72c8"/>
<circle cx="355.6" cy="745.5" r="0.95" fill="#2a72c8"/>
<circle cx="358.4" cy="744.0" r="0.95" fill="#2a72c8"/>
<circle cx="361.6" cy="743.8" r="0.95" fill="#2a72c8"/>
<circle cx="366.1" cy="745.2" r="0.95" fill="#2a72c8"/>
<circle cx="369.1" cy="745.3" r="0.95" fill="#2a72c8"/>
<circle cx="372.4" cy="745.5" r="0.95" fill="#2a72c8"/>
<circle cx="318.2" cy="747.9" r="0.95" fill="#2a72c8"/>
<circle cx="320.6" cy="747.7" r="0.95" fill="#2a72c8"/>
<circle cx="327.4" cy="747.4" r="0.95" fill="#2a72c8"/>
<circle cx="331.8" cy="746.9" r="0.95" fill="#2a72c8"/>
<circle cx="334.6" cy="747.2" r="0.95" fill="#2a72c8"/>
<circle cx="338.1" cy="748.0" r="0.95" fill="#2a72c8"/>
<circle cx="344.2" cy="747.4" r="0.95" fill="#2a72c8"/>
<circle cx="353.5" cy="747.8" r="0.95" fill="#2a72c8"/>
<circle cx="363.3" cy="747.8" r="0.95" fill="#2a72c8"/>
<circle cx="367.4" cy="747.7" r="0.95" fill="#2a72c8"/>
<circle cx="370.1" cy="747.4" r="0.95" fill="#2a72c8"/>
<circle cx="316.7" cy="748.3" r="0.95" fill="#2a72c8"/>
<circle cx="320.6" cy="749.0" r="0.95" fill="#2a72c8"/>
<circle cx="326.1" cy="748.4" r="0.95" fill="#2a72c8"/>
<circle cx="329.3" cy="748.7" r="0.95" fill="#2a72c8"/>
<circle cx="350.8" cy="748.8" r="0.95" fill="#2a72c8"/>
<circle cx="357.1" cy="748.8" r="0.95" fill="#2a72c8"/>
<circle cx="363.4" cy="748.9" r="0.95" fill="#2a72c8"/>
<circle cx="369.2" cy="748.3" r="0.95" fill="#2a72c8"/>
<circle cx="318.1" cy="752.1" r="0.95" fill="#2a72c8"/>
<circle cx="322.9" cy="750.5" r="0.95" fill="#2a72c8"/>
<circle cx="324.6" cy="751.6" r="0.95" fill="#2a72c8"/>
<circle cx="328.3" cy="751.0" r="0.95" fill="#2a72c8"/>
<circle cx="332.2" cy="750.6" r="0.95" fill="#2a72c8"/>
<circle cx="335.3" cy="750.5" r="0.95" fill="#2a72c8"/>
<circle cx="337.9" cy="751.2" r="0.95" fill="#2a72c8"/>
<circle cx="341.6" cy="751.9" r="0.95" fill="#2a72c8"/>
<circle cx="344.3" cy="751.9" r="0.95" fill="#2a72c8"/>
<circle cx="347.9" cy="750.8" r="0.95" fill="#2a72c8"/>
<circle cx="350.9" cy="750.7" r="0.95" fill="#2a72c8"/>
<circle cx="355.9" cy="750.8" r="0.95" fill="#2a72c8"/>
<circle cx="358.9" cy="752.1" r="0.95" fill="#2a72c8"/>
<circle cx="361.9" cy="750.5" r="0.95" fill="#2a72c8"/>
<circle cx="364.7" cy="750.4" r="0.95" fill="#2a72c8"/>
<circle cx="367.6" cy="750.8" r="0.95" fill="#2a72c8"/>
<circle cx="370.8" cy="751.5" r="0.95" fill="#2a72c8"/>
<circle cx="374.8" cy="750.7" r="0.95" fill="#2a72c8"/>
<circle cx="377.6" cy="750.4" r="0.95" fill="#2a72c8"/>
<circle cx="316.9" cy="755.0" r="0.95" fill="#2a72c8"/>
<circle cx="321.2" cy="754.6" r="0.95" fill="#2a72c8"/>
<circle cx="324.0" cy="754.4" r="0.95" fill="#2a72c8"/>
<circle cx="327.9" cy="754.8" r="0.95" fill="#2a72c8"/>
<circle cx="330.1" cy="754.2" r="0.95" fill="#2a72c8"/>
<circle cx="334.4" cy="754.3" r="0.95" fill="#2a72c8"/>
<circle cx="337.0" cy="753.8" r="0.95" fill="#2a72c8"/>
<circle cx="340.4" cy="754.2" r="0.95" fill="#2a72c8"/>
<circle cx="344.3" cy="755.2" r="0.95" fill="#2a72c8"/>
<circle cx="347.7" cy="755.1" r="0.95" fill="#2a72c8"/>
<circle cx="349.1" cy="753.3" r="0.95" fill="#2a72c8"/>
<circle cx="353.0" cy="754.9" r="0.95" fill="#2a72c8"/>
<circle cx="356.7" cy="753.7" r="0.95" fill="#2a72c8"/>
<circle cx="359.1" cy="753.7" r="0.95" fill="#2a72c8"/>
<circle cx="362.5" cy="753.5" r="0.95" fill="#2a72c8"/>
<circle cx="367.0" cy="753.6" r="0.95" fill="#2a72c8"/>
<circle cx="369.1" cy="754.4" r="0.95" fill="#2a72c8"/>
<circle cx="372.4" cy="754.9" r="0.95" fill="#2a72c8"/>
<circle cx="376.7" cy="755.0" r="0.95" fill="#2a72c8"/>
<circle cx="380.2" cy="754.7" r="0.95" fill="#2a72c8"/>
<circle cx="318.8" cy="757.1" r="0.95" fill="#2a72c8"/>
<circle cx="322.1" cy="757.4" r="0.95" fill="#2a72c8"/>
<circle cx="324.6" cy="757.4" r="0.95" fill="#2a72c8"/>
<circle cx="328.5" cy="756.7" r="0.95" fill="#2a72c8"/>
<circle cx="331.7" cy="758.0" r="0.95" fill="#2a72c8"/>
<circle cx="335.4" cy="757.0" r="0.95" fill="#2a72c8"/>
<circle cx="337.9" cy="757.6" r="0.95" fill="#2a72c8"/>
<circle cx="341.9" cy="756.9" r="0.95" fill="#2a72c8"/>
<circle cx="345.0" cy="757.1" r="0.95" fill="#2a72c8"/>
<circle cx="348.6" cy="758.1" r="0.95" fill="#2a72c8"/>
<circle cx="351.4" cy="757.4" r="0.95" fill="#2a72c8"/>
<circle cx="355.1" cy="757.6" r="0.95" fill="#2a72c8"/>
<circle cx="357.7" cy="756.8" r="0.95" fill="#2a72c8"/>
<circle cx="362.4" cy="756.6" r="0.95" fill="#2a72c8"/>
<circle cx="365.2" cy="756.8" r="0.95" fill="#2a72c8"/>
<circle cx="368.1" cy="757.2" r="0.95" fill="#2a72c8"/>
<circle cx="370.9" cy="756.7" r="0.95" fill="#2a72c8"/>
<circle cx="375.7" cy="756.4" r="0.95" fill="#2a72c8"/>
<circle cx="377.3" cy="757.8" r="0.95" fill="#2a72c8"/>
<circle cx="381.1" cy="756.7" r="0.95" fill="#2a72c8"/>
<circle cx="385.2" cy="758.3" r="0.95" fill="#2a72c8"/>
<circle cx="321.2" cy="760.8" r="0.95" fill="#2a72c8"/>
<circle cx="324.5" cy="759.7" r="0.95" fill="#2a72c8"/>
<circle cx="326.1" cy="760.8" r="0.95" fill="#2a72c8"/>
<circle cx="330.1" cy="760.3" r="0.95" fill="#2a72c8"/>
<circle cx="333.0" cy="760.9" r="0.95" fill="#2a72c8"/>
<circle cx="337.4" cy="760.9" r="0.95" fill="#2a72c8"/>
<circle cx="340.0" cy="760.4" r="0.95" fill="#2a72c8"/>
<circle cx="343.2" cy="760.3" r="0.95" fill="#2a72c8"/>
<circle cx="346.4" cy="760.3" r="0.95" fill="#2a72c8"/>
<circle cx="350.9" cy="761.0" r="0.95" fill="#2a72c8"/>
<circle cx="352.6" cy="760.7" r="0.95" fill="#2a72c8"/>
<circle cx="357.2" cy="760.1" r="0.95" fill="#2a72c8"/>
<circle cx="360.7" cy="761.3" r="0.95" fill="#2a72c8"/>
<circle cx="362.3" cy="760.7" r="0.95" fill="#2a72c8"/>
<circle cx="366.3" cy="760.3" r="0.95" fill="#2a72c8"/>
<circle cx="369.9" cy="761.1" r="0.95" fill="#2a72c8"/>
<circle cx="373.4" cy="761.2" r="0.95" fill="#2a72c8"/>
<circle cx="375.9" cy="761.0" r="0.95" fill="#2a72c8"/>
<circle cx="379.5" cy="759.8" r="0.95" fill="#2a72c8"/>
<circle cx="383.6" cy="760.6" r="0.95" fill="#2a72c8"/>
<circle cx="385.8" cy="761.2" r="0.95" fill="#2a72c8"/>
<circle cx="326.0" cy="763.0" r="0.95" fill="#2a72c8"/>
<circle cx="328.2" cy="763.5" r="0.95" fill="#2a72c8"/>
<circle cx="331.1" cy="762.9" r="0.95" fill="#2a72c8"/>
<circle cx="334.9" cy="762.7" r="0.95" fill="#2a72c8"/>
<circle cx="337.7" cy="763.7" r="0.95" fill="#2a72c8"/>
<circle cx="341.4" cy="764.3" r="0.95" fill="#2a72c8"/>
<circle cx="346.0" cy="763.8" r="0.95" fill="#2a72c8"/>
<circle cx="347.9" cy="764.0" r="0.95" fill="#2a72c8"/>
<circle cx="351.3" cy="764.2" r="0.95" fill="#2a72c8"/>
<circle cx="354.8" cy="763.9" r="0.95" fill="#2a72c8"/>
<circle cx="358.8" cy="763.9" r="0.95" fill="#2a72c8"/>
<circle cx="362.1" cy="763.2" r="0.95" fill="#2a72c8"/>
<circle cx="364.2" cy="763.2" r="0.95" fill="#2a72c8"/>
<circle cx="369.1" cy="762.6" r="0.95" fill="#2a72c8"/>
<circle cx="371.0" cy="763.1" r="0.95" fill="#2a72c8"/>
<circle cx="374.6" cy="764.2" r="0.95" fill="#2a72c8"/>
<circle cx="377.4" cy="762.7" r="0.95" fill="#2a72c8"/>
<circle cx="380.4" cy="763.2" r="0.95" fill="#2a72c8"/>
<circle cx="385.1" cy="763.4" r="0.95" fill="#2a72c8"/>
<circle cx="388.2" cy="763.5" r="0.95" fill="#2a72c8"/>
<circle cx="391.0" cy="763.3" r="0.95" fill="#2a72c8"/>
<circle cx="336.8" cy="766.6" r="0.95" fill="#2a72c8"/>
<circle cx="341.0" cy="765.9" r="0.95" fill="#2a72c8"/>
<circle cx="342.9" cy="767.3" r="0.95" fill="#2a72c8"/>
<circle cx="346.9" cy="767.2" r="0.95" fill="#2a72c8"/>
<circle cx="351.0" cy="767.1" r="0.95" fill="#2a72c8"/>
<circle cx="353.5" cy="767.1" r="0.95" fill="#2a72c8"/>
<circle cx="356.7" cy="766.0" r="0.95" fill="#2a72c8"/>
<circle cx="359.6" cy="767.4" r="0.95" fill="#2a72c8"/>
<circle cx="363.3" cy="765.7" r="0.95" fill="#2a72c8"/>
<circle cx="366.8" cy="767.6" r="0.95" fill="#2a72c8"/>
<circle cx="370.1" cy="766.6" r="0.95" fill="#2a72c8"/>
<circle cx="373.0" cy="766.9" r="0.95" fill="#2a72c8"/>
<circle cx="376.6" cy="766.6" r="0.95" fill="#2a72c8"/>
<circle cx="380.5" cy="767.4" r="0.95" fill="#2a72c8"/>
<circle cx="383.6" cy="767.1" r="0.95" fill="#2a72c8"/>
<circle cx="386.7" cy="766.0" r="0.95" fill="#2a72c8"/>
<circle cx="389.6" cy="766.1" r="0.95" fill="#2a72c8"/>
<circle cx="392.3" cy="767.5" r="0.95" fill="#2a72c8"/>
<circle cx="344.6" cy="770.2" r="0.95" fill="#2a72c8"/>
<circle cx="348.5" cy="769.9" r="0.95" fill="#2a72c8"/>
<circle cx="350.8" cy="770.5" r="0.95" fill="#2a72c8"/>
<circle cx="355.9" cy="770.2" r="0.95" fill="#2a72c8"/>
<circle cx="357.8" cy="770.1" r="0.95" fill="#2a72c8"/>
<circle cx="360.8" cy="769.8" r="0.95" fill="#2a72c8"/>
<circle cx="364.5" cy="769.6" r="0.95" fill="#2a72c8"/>
<circle cx="367.7" cy="768.8" r="0.95" fill="#2a72c8"/>
<circle cx="371.3" cy="769.2" r="0.95" fill="#2a72c8"/>
<circle cx="374.1" cy="769.4" r="0.95" fill="#2a72c8"/>
<circle cx="377.3" cy="768.7" r="0.95" fill="#2a72c8"/>
<circle cx="382.3" cy="768.8" r="0.95" fill="#2a72c8"/>
<circle cx="385.4" cy="769.5" r="0.95" fill="#2a72c8"/>
<circle cx="387.2" cy="769.6" r="0.95" fill="#2a72c8"/>
<circle cx="391.3" cy="768.8" r="0.95" fill="#2a72c8"/>
<circle cx="394.6" cy="768.7" r="0.95" fill="#2a72c8"/>
<circle cx="397.4" cy="770.1" r="0.95" fill="#2a72c8"/>
<circle cx="401.8" cy="769.1" r="0.95" fill="#2a72c8"/>
<circle cx="404.3" cy="770.6" r="0.95" fill="#2a72c8"/>
<circle cx="410.5" cy="770.4" r="0.95" fill="#2a72c8"/>
<circle cx="414.0" cy="770.0" r="0.95" fill="#2a72c8"/>
<circle cx="418.5" cy="769.9" r="0.95" fill="#2a72c8"/>
<circle cx="420.3" cy="769.7" r="0.95" fill="#2a72c8"/>
<circle cx="423.9" cy="769.7" r="0.95" fill="#2a72c8"/>
<circle cx="352.9" cy="773.2" r="0.95" fill="#2a72c8"/>
<circle cx="356.4" cy="773.2" r="0.95" fill="#2a72c8"/>
<circle cx="359.6" cy="773.1" r="0.95" fill="#2a72c8"/>
<circle cx="362.6" cy="772.8" r="0.95" fill="#2a72c8"/>
<circle cx="366.5" cy="771.8" r="0.95" fill="#2a72c8"/>
<circle cx="369.1" cy="772.7" r="0.95" fill="#2a72c8"/>
<circle cx="373.6" cy="773.4" r="0.95" fill="#2a72c8"/>
<circle cx="377.1" cy="773.4" r="0.95" fill="#2a72c8"/>
<circle cx="380.6" cy="772.2" r="0.95" fill="#2a72c8"/>
<circle cx="382.3" cy="772.1" r="0.95" fill="#2a72c8"/>
<circle cx="386.9" cy="772.2" r="0.95" fill="#2a72c8"/>
<circle cx="389.2" cy="772.1" r="0.95" fill="#2a72c8"/>
<circle cx="393.7" cy="772.2" r="0.95" fill="#2a72c8"/>
<circle cx="395.7" cy="773.0" r="0.95" fill="#2a72c8"/>
<circle cx="399.9" cy="771.9" r="0.95" fill="#2a72c8"/>
<circle cx="403.0" cy="772.9" r="0.95" fill="#2a72c8"/>
<circle cx="406.2" cy="772.8" r="0.95" fill="#2a72c8"/>
<circle cx="410.0" cy="773.4" r="0.95" fill="#2a72c8"/>
<circle cx="413.4" cy="772.5" r="0.95" fill="#2a72c8"/>
<circle cx="415.1" cy="772.7" r="0.95" fill="#2a72c8"/>
<circle cx="418.4" cy="773.1" r="0.95" fill="#2a72c8"/>
<circle cx="422.6" cy="773.3" r="0.95" fill="#2a72c8"/>
<circle cx="362.1" cy="776.1" r="0.95" fill="#2a72c8"/>
<circle cx="365.7" cy="775.3" r="0.95" fill="#2a72c8"/>
<circle cx="367.9" cy="776.1" r="0.95" fill="#2a72c8"/>
<circle cx="372.0" cy="775.8" r="0.95" fill="#2a72c8"/>
<circle cx="374.1" cy="775.7" r="0.95" fill="#2a72c8"/>
<circle cx="378.2" cy="776.8" r="0.95" fill="#2a72c8"/>
<circle cx="381.7" cy="776.6" r="0.95" fill="#2a72c8"/>
<circle cx="385.3" cy="775.8" r="0.95" fill="#2a72c8"/>
<circle cx="388.0" cy="776.6" r="0.95" fill="#2a72c8"/>
<circle cx="391.7" cy="775.7" r="0.95" fill="#2a72c8"/>
<circle cx="393.9" cy="776.4" r="0.95" fill="#2a72c8"/>
<circle cx="397.4" cy="775.4" r="0.95" fill="#2a72c8"/>
<circle cx="400.7" cy="776.3" r="0.95" fill="#2a72c8"/>
<circle cx="404.7" cy="776.8" r="0.95" fill="#2a72c8"/>
<circle cx="407.9" cy="775.9" r="0.95" fill="#2a72c8"/>
<circle cx="411.8" cy="775.2" r="0.95" fill="#2a72c8"/>
<circle cx="414.5" cy="776.9" r="0.95" fill="#2a72c8"/>
<circle cx="417.3" cy="775.2" r="0.95" fill="#2a72c8"/>
<circle cx="420.2" cy="775.0" r="0.95" fill="#2a72c8"/>
<circle cx="369.1" cy="779.4" r="0.95" fill="#2a72c8"/>
<circle cx="372.9" cy="778.8" r="0.95" fill="#2a72c8"/>
<circle cx="376.9" cy="778.6" r="0.95" fill="#2a72c8"/>
<circle cx="378.9" cy="779.3" r="0.95" fill="#2a72c8"/>
<circle cx="383.5" cy="778.1" r="0.95" fill="#2a72c8"/>
<circle cx="386.0" cy="779.8" r="0.95" fill="#2a72c8"/>
<circle cx="389.6" cy="778.8" r="0.95" fill="#2a72c8"/>
<circle cx="392.2" cy="778.6" r="0.95" fill="#2a72c8"/>
<circle cx="396.4" cy="779.8" r="0.95" fill="#2a72c8"/>
<circle cx="405.8" cy="778.7" r="0.95" fill="#2a72c8"/>
<circle cx="408.5" cy="778.2" r="0.95" fill="#2a72c8"/>
<circle cx="413.5" cy="779.8" r="0.95" fill="#2a72c8"/>
<circle cx="415.3" cy="778.2" r="0.95" fill="#2a72c8"/>
<circle cx="420.3" cy="778.3" r="0.95" fill="#2a72c8"/>
<circle cx="422.2" cy="778.5" r="0.95" fill="#2a72c8"/>
<circle cx="377.5" cy="781.3" r="0.95" fill="#2a72c8"/>
<circle cx="382.1" cy="781.7" r="0.95" fill="#2a72c8"/>
<circle cx="384.1" cy="781.9" r="0.95" fill="#2a72c8"/>
<circle cx="388.6" cy="782.6" r="0.95" fill="#2a72c8"/>
<circle cx="392.1" cy="782.2" r="0.95" fill="#2a72c8"/>
<circle cx="394.2" cy="782.1" r="0.95" fill="#2a72c8"/>
<circle cx="397.0" cy="782.5" r="0.95" fill="#2a72c8"/>
<circle cx="405.1" cy="782.4" r="0.95" fill="#2a72c8"/>
<circle cx="408.4" cy="781.7" r="0.95" fill="#2a72c8"/>
<circle cx="411.2" cy="781.4" r="0.95" fill="#2a72c8"/>
<circle cx="415.2" cy="782.1" r="0.95" fill="#2a72c8"/>
<circle cx="417.0" cy="783.1" r="0.95" fill="#2a72c8"/>
<circle cx="421.2" cy="781.5" r="0.95" fill="#2a72c8"/>
<circle cx="386.3" cy="784.8" r="0.95" fill="#2a72c8"/>
<circle cx="390.3" cy="784.8" r="0.95" fill="#2a72c8"/>
<circle cx="393.5" cy="785.0" r="0.95" fill="#2a72c8"/>
<circle cx="395.5" cy="786.1" r="0.95" fill="#2a72c8"/>
<circle cx="405.2" cy="784.5" r="0.95" fill="#2a72c8"/>
<circle cx="410.3" cy="784.7" r="0.95" fill="#2a72c8"/>
<circle cx="413.1" cy="784.6" r="0.95" fill="#2a72c8"/>
<circle cx="415.0" cy="784.2" r="0.95" fill="#2a72c8"/>
<circle cx="418.5" cy="786.1" r="0.95" fill="#2a72c8"/>
<circle cx="422.5" cy="784.7" r="0.95" fill="#2a72c8"/>
<circle cx="394.4" cy="788.7" r="0.95" fill="#2a72c8"/>
<circle cx="405.3" cy="788.9" r="0.95" fill="#2a72c8"/>
<circle cx="407.8" cy="788.1" r="0.95" fill="#2a72c8"/>
<circle cx="412.0" cy="789.3" r="0.95" fill="#2a72c8"/>
<circle cx="415.0" cy="788.3" r="0.95" fill="#2a72c8"/>
<circle cx="418.4" cy="789.0" r="0.95" fill="#2a72c8"/>
<circle cx="421.0" cy="787.6" r="0.95" fill="#2a72c8"/>
<circle cx="406.1" cy="791.6" r="0.95" fill="#2a72c8"/>
<circle cx="408.8" cy="791.5" r="0.95" fill="#2a72c8"/>
<circle cx="413.6" cy="790.7" r="0.95" fill="#2a72c8"/>
<circle cx="415.4" cy="790.8" r="0.95" fill="#2a72c8"/>
<circle cx="418.5" cy="790.4" r="0.95" fill="#2a72c8"/>
<circle cx="423.5" cy="792.3" r="0.95" fill="#2a72c8"/>
<circle cx="425.0" cy="792.1" r="0.95" fill="#2a72c8"/>
<circle cx="401.4" cy="793.8" r="0.95" fill="#2a72c8"/>
<circle cx="404.2" cy="794.1" r="0.95" fill="#2a72c8"/>
<circle cx="406.8" cy="794.3" r="0.95" fill="#2a72c8"/>
<circle cx="410.8" cy="794.9" r="0.95" fill="#2a72c8"/>
<circle cx="414.7" cy="795.4" r="0.95" fill="#2a72c8"/>
<circle cx="418.4" cy="794.0" r="0.95" fill="#2a72c8"/>
<circle cx="421.2" cy="794.9" r="0.95" fill="#2a72c8"/>
<circle cx="424.8" cy="793.8" r="0.95" fill="#2a72c8"/>
<circle cx="406.6" cy="798.2" r="0.95" fill="#2a72c8"/>
<circle cx="410.1" cy="797.1" r="0.95" fill="#2a72c8"/>
<circle cx="412.9" cy="797.5" r="0.95" fill="#2a72c8"/>
<circle cx="416.2" cy="796.8" r="0.95" fill="#2a72c8"/>
<circle cx="418.7" cy="797.1" r="0.95" fill="#2a72c8"/>
<circle cx="423.2" cy="798.2" r="0.95" fill="#2a72c8"/>
<circle cx="407.6" cy="800.7" r="0.95" fill="#2a72c8"/>
<circle cx="410.6" cy="801.6" r="0.95" fill="#2a72c8"/>
<circle cx="413.8" cy="801.6" r="0.95" fill="#2a72c8"/>
<circle cx="418.2" cy="801.4" r="0.95" fill="#2a72c8"/>
<circle cx="412.0" cy="804.7" r="0.95" fill="#2a72c8"/>
<circle cx="416.2" cy="804.1" r="0.95" fill="#2a72c8"/>
<rect x="334.4" y="700" width="3.2" height="8" fill="#161616" transform="rotate(20 336 704)"/>
<rect x="362.4" y="700" width="3.2" height="8" fill="#161616" transform="rotate(15 364 704)"/>
<rect x="324.4" y="714" width="3.2" height="8" fill="#161616" transform="rotate(-60 326 718)"/>
<rect x="341.4" y="718" width="3.2" height="8" fill="#161616" transform="rotate(-30 343 722)"/>
<rect x="359.4" y="732" width="3.2" height="8" fill="#161616" transform="rotate(-50 361 736)"/>
<rect x="330.4" y="735" width="3.2" height="8" fill="#161616" transform="rotate(20 332 739)"/>
<rect x="274" y="740" width="2.8" height="6.5" fill="#1a1a1a" transform="rotate(70 274 740)"/>
<rect x="286" y="740" width="2.8" height="6.5" fill="#1a1a1a" transform="rotate(80 286 740)"/>
<rect x="298" y="741" width="2.8" height="6.5" fill="#1a1a1a" transform="rotate(90 298 741)"/>
<rect x="308" y="742" width="2.8" height="6.5" fill="#1a1a1a" transform="rotate(85 308 742)"/>
<rect x="273" y="751" width="2.8" height="6.5" fill="#1a1a1a" transform="rotate(10 273 751)"/>
<rect x="283" y="756" width="2.8" height="6.5" fill="#1a1a1a" transform="rotate(-30 283 756)"/>
<rect x="276" y="764" width="2.8" height="6.5" fill="#1a1a1a" transform="rotate(20 276 764)"/>
<rect x="289" y="766" width="2.8" height="6.5" fill="#1a1a1a" transform="rotate(40 289 766)"/>
<rect x="534" y="736.5" width="113.5" height="42" fill="#cfe8f3" stroke="#3c3c3c" stroke-width="1.3"/>
<line x1="534" y1="760" x2="647.5" y2="760" stroke="#3c3c3c" stroke-width="1"/>
<path d="M611,742.5 H677.5 V768 H683.5 L669.25,780.5 L655.0,768 H661.0 V753.0 H611 Z" fill="#fff" stroke="#5e5e5e" stroke-width="2.2" stroke-linejoin="miter"/>
<path d="M611,742.5 H677.5 V768 H683.5 L669.25,780.5 L655.0,768 H661.0 V753.0 H611 Z" fill="none" stroke="#b9c4c9" stroke-width="0.7" stroke-linejoin="miter"/>
<circle cx="613.7" cy="745.0" r="0.95" fill="#111"/>
<circle cx="616.7" cy="745.8" r="0.95" fill="#111"/>
<circle cx="620.1" cy="745.9" r="0.95" fill="#111"/>
<circle cx="622.8" cy="745.7" r="0.95" fill="#111"/>
<circle cx="627.1" cy="745.1" r="0.95" fill="#111"/>
<circle cx="630.2" cy="744.4" r="0.95" fill="#111"/>
<circle cx="632.5" cy="744.2" r="0.95" fill="#111"/>
<circle cx="637.5" cy="744.8" r="0.95" fill="#111"/>
<circle cx="640.4" cy="744.9" r="0.95" fill="#111"/>
<circle cx="644.3" cy="745.4" r="0.95" fill="#111"/>
<circle cx="646.8" cy="745.2" r="0.95" fill="#111"/>
<circle cx="649.9" cy="745.8" r="0.95" fill="#111"/>
<circle cx="653.2" cy="745.7" r="0.95" fill="#111"/>
<circle cx="657.3" cy="744.4" r="0.95" fill="#111"/>
<circle cx="661.5" cy="744.5" r="0.95" fill="#111"/>
<circle cx="664.3" cy="744.6" r="0.95" fill="#111"/>
<circle cx="666.7" cy="745.5" r="0.95" fill="#111"/>
<circle cx="671.5" cy="745.7" r="0.95" fill="#111"/>
<circle cx="674.5" cy="745.3" r="0.95" fill="#111"/>
<circle cx="614.1" cy="749.1" r="0.95" fill="#111"/>
<circle cx="617.8" cy="748.4" r="0.95" fill="#111"/>
<circle cx="620.6" cy="747.9" r="0.95" fill="#111"/>
<circle cx="624.9" cy="748.2" r="0.95" fill="#111"/>
<circle cx="628.1" cy="748.0" r="0.95" fill="#111"/>
<circle cx="630.8" cy="748.5" r="0.95" fill="#111"/>
<circle cx="634.8" cy="747.5" r="0.95" fill="#111"/>
<circle cx="638.3" cy="748.5" r="0.95" fill="#111"/>
<circle cx="642.3" cy="748.0" r="0.95" fill="#111"/>
<circle cx="644.6" cy="748.4" r="0.95" fill="#111"/>
<circle cx="648.9" cy="748.2" r="0.95" fill="#111"/>
<circle cx="652.9" cy="748.0" r="0.95" fill="#111"/>
<circle cx="655.5" cy="747.4" r="0.95" fill="#111"/>
<circle cx="658.2" cy="747.6" r="0.95" fill="#111"/>
<circle cx="661.7" cy="747.6" r="0.95" fill="#111"/>
<circle cx="665.0" cy="749.0" r="0.95" fill="#111"/>
<circle cx="669.3" cy="748.2" r="0.95" fill="#111"/>
<circle cx="672.6" cy="747.8" r="0.95" fill="#111"/>
<circle cx="676.6" cy="748.6" r="0.95" fill="#111"/>
<circle cx="612.9" cy="750.5" r="0.95" fill="#111"/>
<circle cx="615.5" cy="750.6" r="0.95" fill="#111"/>
<circle cx="620.2" cy="750.6" r="0.95" fill="#111"/>
<circle cx="623.1" cy="751.4" r="0.95" fill="#111"/>
<circle cx="626.4" cy="751.0" r="0.95" fill="#111"/>
<circle cx="633.9" cy="751.5" r="0.95" fill="#111"/>
<circle cx="637.6" cy="751.8" r="0.95" fill="#111"/>
<circle cx="639.7" cy="750.8" r="0.95" fill="#111"/>
<circle cx="643.0" cy="750.7" r="0.95" fill="#111"/>
<circle cx="646.8" cy="751.6" r="0.95" fill="#111"/>
<circle cx="649.9" cy="750.6" r="0.95" fill="#111"/>
<circle cx="653.5" cy="751.3" r="0.95" fill="#111"/>
<circle cx="661.2" cy="751.0" r="0.95" fill="#111"/>
<circle cx="664.6" cy="751.0" r="0.95" fill="#111"/>
<circle cx="667.6" cy="751.5" r="0.95" fill="#111"/>
<circle cx="670.3" cy="751.5" r="0.95" fill="#111"/>
<circle cx="673.8" cy="751.9" r="0.95" fill="#111"/>
<circle cx="662.7" cy="754.1" r="0.95" fill="#111"/>
<circle cx="666.4" cy="755.3" r="0.95" fill="#111"/>
<circle cx="669.1" cy="753.9" r="0.95" fill="#111"/>
<circle cx="671.9" cy="755.0" r="0.95" fill="#111"/>
<circle cx="675.1" cy="754.8" r="0.95" fill="#111"/>
<circle cx="663.9" cy="757.7" r="0.95" fill="#111"/>
<circle cx="667.4" cy="757.1" r="0.95" fill="#111"/>
<circle cx="671.1" cy="758.2" r="0.95" fill="#111"/>
<circle cx="674.2" cy="758.0" r="0.95" fill="#111"/>
<circle cx="665.0" cy="760.6" r="0.95" fill="#111"/>
<circle cx="669.4" cy="760.3" r="0.95" fill="#111"/>
<circle cx="673.2" cy="761.4" r="0.95" fill="#111"/>
<circle cx="676.0" cy="761.5" r="0.95" fill="#111"/>
<circle cx="664.8" cy="763.7" r="0.95" fill="#111"/>
<circle cx="666.7" cy="764.0" r="0.95" fill="#111"/>
<circle cx="670.0" cy="764.3" r="0.95" fill="#111"/>
<circle cx="674.3" cy="763.6" r="0.95" fill="#111"/>
<circle cx="661.6" cy="768.2" r="0.95" fill="#111"/>
<circle cx="665.6" cy="767.3" r="0.95" fill="#111"/>
<circle cx="668.6" cy="768.1" r="0.95" fill="#111"/>
<circle cx="673.3" cy="767.2" r="0.95" fill="#111"/>
<circle cx="675.9" cy="767.0" r="0.95" fill="#111"/>
<circle cx="661.3" cy="770.7" r="0.95" fill="#111"/>
<circle cx="664.2" cy="771.4" r="0.95" fill="#111"/>
<circle cx="667.3" cy="770.3" r="0.95" fill="#111"/>
<circle cx="671.6" cy="771.5" r="0.95" fill="#111"/>
<circle cx="673.5" cy="771.2" r="0.95" fill="#111"/>
<circle cx="662.6" cy="773.4" r="0.95" fill="#111"/>
<circle cx="665.6" cy="773.2" r="0.95" fill="#111"/>
<circle cx="668.3" cy="773.7" r="0.95" fill="#111"/>
<circle cx="672.9" cy="774.2" r="0.95" fill="#111"/>
<circle cx="668.2" cy="776.5" r="0.95" fill="#111"/>
<circle cx="670.7" cy="776.9" r="0.95" fill="#111"/>
<path d="M502.4,786 V764.4 H535" fill="none" stroke="#666" stroke-width="1.4"/>
<path d="M571,753 H609 C611,766 606,772 598,775.5 H524.7 V794 H531.2 L515.4,804.3 L500.6,794 H505 V772 Q505,766.2 511,766.2 H571 Z" fill="#2b8ad9"/>
<rect x="571.5" y="691" width="39.5" height="63" rx="1.5" fill="#2b8ad9" stroke="#3c3c3c" stroke-width="1.5"/>
<circle cx="575.3" cy="696.1" r="1.55" fill="#111"/>
<circle cx="580.6" cy="694.9" r="1.55" fill="#111"/>
<circle cx="589.2" cy="693.7" r="1.55" fill="#111"/>
<circle cx="595.0" cy="694.7" r="1.55" fill="#111"/>
<circle cx="601.0" cy="695.6" r="1.55" fill="#111"/>
<circle cx="606.9" cy="693.9" r="1.55" fill="#111"/>
<circle cx="578.6" cy="702.3" r="1.55" fill="#111"/>
<circle cx="584.6" cy="702.1" r="1.55" fill="#111"/>
<circle cx="591.3" cy="701.5" r="1.55" fill="#111"/>
<circle cx="598.2" cy="701.7" r="1.55" fill="#111"/>
<circle cx="604.6" cy="701.5" r="1.55" fill="#111"/>
<circle cx="575.6" cy="706.4" r="1.55" fill="#111"/>
<circle cx="582.5" cy="707.3" r="1.55" fill="#111"/>
<circle cx="588.0" cy="707.3" r="1.55" fill="#111"/>
<circle cx="594.1" cy="706.3" r="1.55" fill="#111"/>
<circle cx="602.1" cy="706.3" r="1.55" fill="#111"/>
<circle cx="607.1" cy="707.2" r="1.55" fill="#111"/>
<circle cx="578.2" cy="711.9" r="1.55" fill="#111"/>
<circle cx="584.2" cy="713.7" r="1.55" fill="#111"/>
<circle cx="590.3" cy="713.0" r="1.55" fill="#111"/>
<circle cx="596.7" cy="711.9" r="1.55" fill="#111"/>
<circle cx="605.5" cy="712.8" r="1.55" fill="#111"/>
<circle cx="574.9" cy="717.9" r="1.55" fill="#111"/>
<circle cx="580.6" cy="719.0" r="1.55" fill="#111"/>
<circle cx="589.1" cy="720.1" r="1.55" fill="#111"/>
<circle cx="594.2" cy="719.0" r="1.55" fill="#111"/>
<circle cx="600.3" cy="719.9" r="1.55" fill="#111"/>
<circle cx="606.6" cy="718.5" r="1.55" fill="#111"/>
<circle cx="577.4" cy="725.6" r="1.55" fill="#111"/>
<circle cx="585.7" cy="724.8" r="1.55" fill="#111"/>
<circle cx="590.8" cy="726.1" r="1.55" fill="#111"/>
<circle cx="596.7" cy="725.7" r="1.55" fill="#111"/>
<circle cx="603.8" cy="726.1" r="1.55" fill="#111"/>
<circle cx="574.4" cy="732.0" r="1.55" fill="#111"/>
<circle cx="582.4" cy="730.5" r="1.55" fill="#111"/>
<circle cx="587.2" cy="731.3" r="1.55" fill="#111"/>
<circle cx="593.4" cy="731.2" r="1.55" fill="#111"/>
<circle cx="600.5" cy="731.4" r="1.55" fill="#111"/>
<circle cx="606.5" cy="731.5" r="1.55" fill="#111"/>
<circle cx="577.6" cy="737.2" r="1.55" fill="#111"/>
<circle cx="585.3" cy="736.1" r="1.55" fill="#111"/>
<circle cx="590.8" cy="737.6" r="1.55" fill="#111"/>
<circle cx="598.2" cy="738.0" r="1.55" fill="#111"/>
<circle cx="603.0" cy="736.7" r="1.55" fill="#111"/>
<circle cx="574.6" cy="744.0" r="1.55" fill="#111"/>
<circle cx="581.5" cy="742.6" r="1.55" fill="#111"/>
<circle cx="587.1" cy="742.9" r="1.55" fill="#111"/>
<circle cx="594.1" cy="741.8" r="1.55" fill="#111"/>
<circle cx="601.3" cy="744.0" r="1.55" fill="#111"/>
<circle cx="607.3" cy="742.9" r="1.55" fill="#111"/>
<circle cx="579.2" cy="750.2" r="1.55" fill="#111"/>
<circle cx="585.9" cy="749.6" r="1.55" fill="#111"/>
<circle cx="590.4" cy="748.6" r="1.55" fill="#111"/>
<circle cx="597.3" cy="749.8" r="1.55" fill="#111"/>
<circle cx="605.0" cy="749.8" r="1.55" fill="#111"/>
<rect x="543" y="782" width="95.5" height="13" fill="#cfe8f3" stroke="#3c3c3c" stroke-width="1.3"/>
<path d="M534,784 Q535,779 542,779 H639.5 Q646.5,779 647.5,784 L638.5,788 V782 H543 V788 Z" fill="#cfe8f3" stroke="#3c3c3c" stroke-width="1.3" stroke-linejoin="round"/>
<rect x="543.1" y="782" width="2.8" height="13" fill="#2a2a2a"/>
<rect x="561.6" y="782" width="2.8" height="13" fill="#2a2a2a"/>
<rect x="580.1" y="782" width="2.8" height="13" fill="#2a2a2a"/>
<rect x="598.6" y="782" width="2.8" height="13" fill="#2a2a2a"/>
<rect x="617.1" y="782" width="2.8" height="13" fill="#2a2a2a"/>
<rect x="635.6" y="782" width="2.8" height="13" fill="#2a2a2a"/>
<rect x="547" y="795" width="93" height="40" fill="#cfe8f3" stroke="#3c3c3c" stroke-width="1.4"/>
<line x1="543.5" y1="835" x2="643.5" y2="835" stroke="#3c3c3c" stroke-width="2"/>
<text x="87" y="889.5" class="cap">分</text><text x="128" y="889.5" class="cap">级</text>
<text x="317" y="889.5" class="cap">除</text><text x="358" y="889.5" class="cap">杂</text>
<text x="556" y="889.5" class="cap">过</text><text x="597" y="889.5" class="cap">滤</text>
</svg></body></html>
